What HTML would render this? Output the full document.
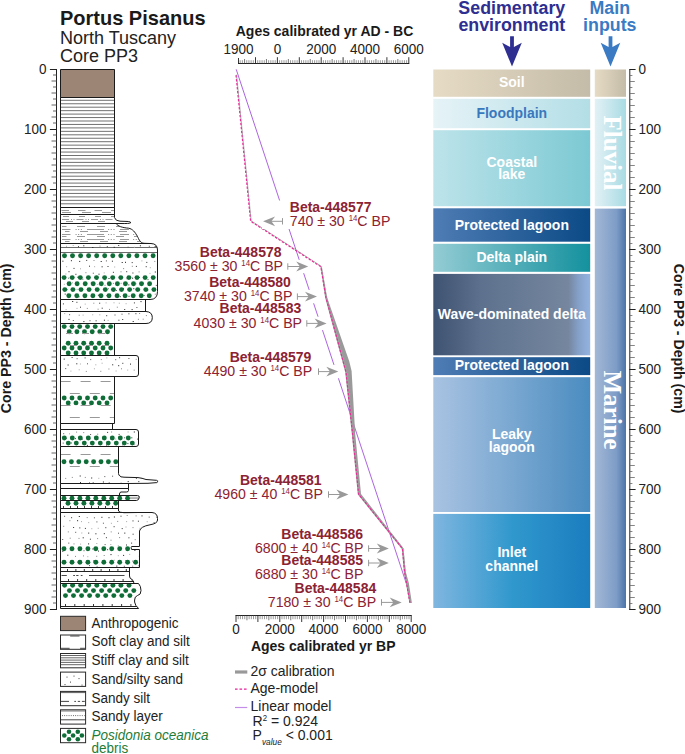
<!DOCTYPE html><html><head><meta charset="utf-8"><style>html,body{margin:0;padding:0;background:#fff;} svg{display:block} text{font-family:'Liberation Sans', sans-serif;}</style></head><body>
<svg width="685" height="754" viewBox="0 0 685 754">
<defs>
<linearGradient id="gSoil" x1="0" y1="0" x2="1" y2="0"><stop offset="0" stop-color="#e6dcc5"/><stop offset="1" stop-color="#c4bba8"/></linearGradient>
<linearGradient id="gFlood" x1="0" y1="0" x2="1" y2="0"><stop offset="0" stop-color="#e6f3f7"/><stop offset="1" stop-color="#b3dee6"/></linearGradient>
<linearGradient id="gLake" x1="0" y1="0" x2="1" y2="0"><stop offset="0" stop-color="#bde3ea"/><stop offset="1" stop-color="#7cc9d3"/></linearGradient>
<linearGradient id="gProt" x1="0" y1="0" x2="1" y2="0"><stop offset="0" stop-color="#4f7cb4"/><stop offset="1" stop-color="#0b4a86"/></linearGradient>
<linearGradient id="gDelta" x1="0" y1="0" x2="1" y2="0"><stop offset="0" stop-color="#94ccd4"/><stop offset="1" stop-color="#14919e"/></linearGradient>
<linearGradient id="gWave" x1="0" y1="0" x2="1" y2="0"><stop offset="0" stop-color="#3e5271"/><stop offset="0.3" stop-color="#5d718e"/><stop offset="0.86" stop-color="#75869e"/><stop offset="0.93" stop-color="#86a2cb"/><stop offset="1" stop-color="#93b3e0"/></linearGradient>
<linearGradient id="gLeaky" x1="0" y1="0" x2="1" y2="0"><stop offset="0" stop-color="#a9c3e2"/><stop offset="1" stop-color="#4a8cc0"/></linearGradient>
<linearGradient id="gInlet" x1="0" y1="0" x2="1" y2="0"><stop offset="0" stop-color="#80b6e0"/><stop offset="0.5" stop-color="#3198cd"/><stop offset="1" stop-color="#1a7dbf"/></linearGradient>
<linearGradient id="gFluv" x1="0" y1="0" x2="1" y2="0"><stop offset="0" stop-color="#e2f1f5"/><stop offset="1" stop-color="#a9dbe4"/></linearGradient>
<linearGradient id="gMar" x1="0" y1="0" x2="1" y2="0"><stop offset="0" stop-color="#a3b8d6"/><stop offset="0.7" stop-color="#7d9cc6"/><stop offset="1" stop-color="#4b74a8"/></linearGradient>
</defs>
<text x="60" y="25.2" font-size="20" font-weight="bold" fill="#1a1a1a" transform="matrix(1,0,0,1.05,0,-1.260)">Portus Pisanus</text>
<text x="60" y="43.7" font-size="18" fill="#222" transform="matrix(1,0,0,1.05,0,-2.185)">North Tuscany</text>
<text x="60" y="62" font-size="18" fill="#222" transform="matrix(1,0,0,1.05,0,-3.100)">Core PP3</text>
<g stroke="#222" stroke-width="1" fill="none">
<line x1="56.5" y1="69.0" x2="56.5" y2="610.0"/>
<line x1="49.9" y1="69.5" x2="56.5" y2="69.5"/>
<line x1="53" y1="75.0" x2="56.5" y2="75.0" stroke="#555" stroke-width="0.9"/>
<line x1="51.5" y1="81.0" x2="56.5" y2="81.0" stroke="#555" stroke-width="0.9"/>
<line x1="53" y1="87.0" x2="56.5" y2="87.0" stroke="#555" stroke-width="0.9"/>
<line x1="51.5" y1="93.0" x2="56.5" y2="93.0" stroke="#555" stroke-width="0.9"/>
<line x1="53" y1="99.0" x2="56.5" y2="99.0" stroke="#555" stroke-width="0.9"/>
<line x1="51.5" y1="105.0" x2="56.5" y2="105.0" stroke="#555" stroke-width="0.9"/>
<line x1="53" y1="111.0" x2="56.5" y2="111.0" stroke="#555" stroke-width="0.9"/>
<line x1="51.5" y1="117.0" x2="56.5" y2="117.0" stroke="#555" stroke-width="0.9"/>
<line x1="53" y1="123.0" x2="56.5" y2="123.0" stroke="#555" stroke-width="0.9"/>
<line x1="49.9" y1="129.5" x2="56.5" y2="129.5"/>
<line x1="53" y1="135.0" x2="56.5" y2="135.0" stroke="#555" stroke-width="0.9"/>
<line x1="51.5" y1="141.0" x2="56.5" y2="141.0" stroke="#555" stroke-width="0.9"/>
<line x1="53" y1="147.0" x2="56.5" y2="147.0" stroke="#555" stroke-width="0.9"/>
<line x1="51.5" y1="153.0" x2="56.5" y2="153.0" stroke="#555" stroke-width="0.9"/>
<line x1="53" y1="159.0" x2="56.5" y2="159.0" stroke="#555" stroke-width="0.9"/>
<line x1="51.5" y1="165.0" x2="56.5" y2="165.0" stroke="#555" stroke-width="0.9"/>
<line x1="53" y1="171.0" x2="56.5" y2="171.0" stroke="#555" stroke-width="0.9"/>
<line x1="51.5" y1="177.0" x2="56.5" y2="177.0" stroke="#555" stroke-width="0.9"/>
<line x1="53" y1="183.0" x2="56.5" y2="183.0" stroke="#555" stroke-width="0.9"/>
<line x1="49.9" y1="189.5" x2="56.5" y2="189.5"/>
<line x1="53" y1="195.0" x2="56.5" y2="195.0" stroke="#555" stroke-width="0.9"/>
<line x1="51.5" y1="201.0" x2="56.5" y2="201.0" stroke="#555" stroke-width="0.9"/>
<line x1="53" y1="207.0" x2="56.5" y2="207.0" stroke="#555" stroke-width="0.9"/>
<line x1="51.5" y1="213.0" x2="56.5" y2="213.0" stroke="#555" stroke-width="0.9"/>
<line x1="53" y1="219.0" x2="56.5" y2="219.0" stroke="#555" stroke-width="0.9"/>
<line x1="51.5" y1="225.0" x2="56.5" y2="225.0" stroke="#555" stroke-width="0.9"/>
<line x1="53" y1="231.0" x2="56.5" y2="231.0" stroke="#555" stroke-width="0.9"/>
<line x1="51.5" y1="237.0" x2="56.5" y2="237.0" stroke="#555" stroke-width="0.9"/>
<line x1="53" y1="243.0" x2="56.5" y2="243.0" stroke="#555" stroke-width="0.9"/>
<line x1="49.9" y1="249.5" x2="56.5" y2="249.5"/>
<line x1="53" y1="255.0" x2="56.5" y2="255.0" stroke="#555" stroke-width="0.9"/>
<line x1="51.5" y1="261.0" x2="56.5" y2="261.0" stroke="#555" stroke-width="0.9"/>
<line x1="53" y1="267.0" x2="56.5" y2="267.0" stroke="#555" stroke-width="0.9"/>
<line x1="51.5" y1="273.0" x2="56.5" y2="273.0" stroke="#555" stroke-width="0.9"/>
<line x1="53" y1="279.0" x2="56.5" y2="279.0" stroke="#555" stroke-width="0.9"/>
<line x1="51.5" y1="285.0" x2="56.5" y2="285.0" stroke="#555" stroke-width="0.9"/>
<line x1="53" y1="291.0" x2="56.5" y2="291.0" stroke="#555" stroke-width="0.9"/>
<line x1="51.5" y1="297.0" x2="56.5" y2="297.0" stroke="#555" stroke-width="0.9"/>
<line x1="53" y1="303.0" x2="56.5" y2="303.0" stroke="#555" stroke-width="0.9"/>
<line x1="49.9" y1="309.5" x2="56.5" y2="309.5"/>
<line x1="53" y1="315.0" x2="56.5" y2="315.0" stroke="#555" stroke-width="0.9"/>
<line x1="51.5" y1="321.0" x2="56.5" y2="321.0" stroke="#555" stroke-width="0.9"/>
<line x1="53" y1="327.0" x2="56.5" y2="327.0" stroke="#555" stroke-width="0.9"/>
<line x1="51.5" y1="333.0" x2="56.5" y2="333.0" stroke="#555" stroke-width="0.9"/>
<line x1="53" y1="339.0" x2="56.5" y2="339.0" stroke="#555" stroke-width="0.9"/>
<line x1="51.5" y1="345.0" x2="56.5" y2="345.0" stroke="#555" stroke-width="0.9"/>
<line x1="53" y1="351.0" x2="56.5" y2="351.0" stroke="#555" stroke-width="0.9"/>
<line x1="51.5" y1="357.0" x2="56.5" y2="357.0" stroke="#555" stroke-width="0.9"/>
<line x1="53" y1="363.0" x2="56.5" y2="363.0" stroke="#555" stroke-width="0.9"/>
<line x1="49.9" y1="369.5" x2="56.5" y2="369.5"/>
<line x1="53" y1="375.0" x2="56.5" y2="375.0" stroke="#555" stroke-width="0.9"/>
<line x1="51.5" y1="381.0" x2="56.5" y2="381.0" stroke="#555" stroke-width="0.9"/>
<line x1="53" y1="387.0" x2="56.5" y2="387.0" stroke="#555" stroke-width="0.9"/>
<line x1="51.5" y1="393.0" x2="56.5" y2="393.0" stroke="#555" stroke-width="0.9"/>
<line x1="53" y1="399.0" x2="56.5" y2="399.0" stroke="#555" stroke-width="0.9"/>
<line x1="51.5" y1="405.0" x2="56.5" y2="405.0" stroke="#555" stroke-width="0.9"/>
<line x1="53" y1="411.0" x2="56.5" y2="411.0" stroke="#555" stroke-width="0.9"/>
<line x1="51.5" y1="417.0" x2="56.5" y2="417.0" stroke="#555" stroke-width="0.9"/>
<line x1="53" y1="423.0" x2="56.5" y2="423.0" stroke="#555" stroke-width="0.9"/>
<line x1="49.9" y1="429.5" x2="56.5" y2="429.5"/>
<line x1="53" y1="435.0" x2="56.5" y2="435.0" stroke="#555" stroke-width="0.9"/>
<line x1="51.5" y1="441.0" x2="56.5" y2="441.0" stroke="#555" stroke-width="0.9"/>
<line x1="53" y1="447.0" x2="56.5" y2="447.0" stroke="#555" stroke-width="0.9"/>
<line x1="51.5" y1="453.0" x2="56.5" y2="453.0" stroke="#555" stroke-width="0.9"/>
<line x1="53" y1="459.0" x2="56.5" y2="459.0" stroke="#555" stroke-width="0.9"/>
<line x1="51.5" y1="465.0" x2="56.5" y2="465.0" stroke="#555" stroke-width="0.9"/>
<line x1="53" y1="471.0" x2="56.5" y2="471.0" stroke="#555" stroke-width="0.9"/>
<line x1="51.5" y1="477.0" x2="56.5" y2="477.0" stroke="#555" stroke-width="0.9"/>
<line x1="53" y1="483.0" x2="56.5" y2="483.0" stroke="#555" stroke-width="0.9"/>
<line x1="49.9" y1="489.5" x2="56.5" y2="489.5"/>
<line x1="53" y1="495.0" x2="56.5" y2="495.0" stroke="#555" stroke-width="0.9"/>
<line x1="51.5" y1="501.0" x2="56.5" y2="501.0" stroke="#555" stroke-width="0.9"/>
<line x1="53" y1="507.0" x2="56.5" y2="507.0" stroke="#555" stroke-width="0.9"/>
<line x1="51.5" y1="513.0" x2="56.5" y2="513.0" stroke="#555" stroke-width="0.9"/>
<line x1="53" y1="519.0" x2="56.5" y2="519.0" stroke="#555" stroke-width="0.9"/>
<line x1="51.5" y1="525.0" x2="56.5" y2="525.0" stroke="#555" stroke-width="0.9"/>
<line x1="53" y1="531.0" x2="56.5" y2="531.0" stroke="#555" stroke-width="0.9"/>
<line x1="51.5" y1="537.0" x2="56.5" y2="537.0" stroke="#555" stroke-width="0.9"/>
<line x1="53" y1="543.0" x2="56.5" y2="543.0" stroke="#555" stroke-width="0.9"/>
<line x1="49.9" y1="549.5" x2="56.5" y2="549.5"/>
<line x1="53" y1="555.0" x2="56.5" y2="555.0" stroke="#555" stroke-width="0.9"/>
<line x1="51.5" y1="561.0" x2="56.5" y2="561.0" stroke="#555" stroke-width="0.9"/>
<line x1="53" y1="567.0" x2="56.5" y2="567.0" stroke="#555" stroke-width="0.9"/>
<line x1="51.5" y1="573.0" x2="56.5" y2="573.0" stroke="#555" stroke-width="0.9"/>
<line x1="53" y1="579.0" x2="56.5" y2="579.0" stroke="#555" stroke-width="0.9"/>
<line x1="51.5" y1="585.0" x2="56.5" y2="585.0" stroke="#555" stroke-width="0.9"/>
<line x1="53" y1="591.0" x2="56.5" y2="591.0" stroke="#555" stroke-width="0.9"/>
<line x1="51.5" y1="597.0" x2="56.5" y2="597.0" stroke="#555" stroke-width="0.9"/>
<line x1="53" y1="603.0" x2="56.5" y2="603.0" stroke="#555" stroke-width="0.9"/>
<line x1="49.9" y1="609.5" x2="56.5" y2="609.5"/>
</g>
<text x="46.5" y="73.8" font-size="13.5" text-anchor="end" fill="#222" transform="matrix(1,0,0,1.05,0,-3.690)">0</text>
<text x="46.5" y="133.8" font-size="13.5" text-anchor="end" fill="#222" transform="matrix(1,0,0,1.05,0,-6.690)">100</text>
<text x="46.5" y="193.8" font-size="13.5" text-anchor="end" fill="#222" transform="matrix(1,0,0,1.05,0,-9.690)">200</text>
<text x="46.5" y="253.8" font-size="13.5" text-anchor="end" fill="#222" transform="matrix(1,0,0,1.05,0,-12.690)">300</text>
<text x="46.5" y="313.8" font-size="13.5" text-anchor="end" fill="#222" transform="matrix(1,0,0,1.05,0,-15.690)">400</text>
<text x="46.5" y="373.8" font-size="13.5" text-anchor="end" fill="#222" transform="matrix(1,0,0,1.05,0,-18.690)">500</text>
<text x="46.5" y="433.8" font-size="13.5" text-anchor="end" fill="#222" transform="matrix(1,0,0,1.05,0,-21.690)">600</text>
<text x="46.5" y="493.8" font-size="13.5" text-anchor="end" fill="#222" transform="matrix(1,0,0,1.05,0,-24.690)">700</text>
<text x="46.5" y="553.8" font-size="13.5" text-anchor="end" fill="#222" transform="matrix(1,0,0,1.05,0,-27.690)">800</text>
<text x="46.5" y="613.8" font-size="13.5" text-anchor="end" fill="#222" transform="matrix(1,0,0,1.05,0,-30.690)">900</text>
<text transform="translate(10.7,338.3) rotate(-90) scale(1,1.05)" font-size="14.2" font-weight="bold" text-anchor="middle" fill="#1a1a1a">Core PP3 - Depth (cm)</text>
<g stroke="#222" stroke-width="1" fill="none">
<line x1="629.8" y1="69.5" x2="629.8" y2="610.0"/>
<line x1="629.3" y1="69.5" x2="635.6" y2="69.5"/>
<line x1="629.3" y1="75.5" x2="632.4" y2="75.5" stroke="#666" stroke-width="0.8"/>
<line x1="629.3" y1="81.5" x2="634.8" y2="81.5" stroke="#666" stroke-width="0.8"/>
<line x1="629.3" y1="87.5" x2="632.4" y2="87.5" stroke="#666" stroke-width="0.8"/>
<line x1="629.3" y1="93.5" x2="634.8" y2="93.5" stroke="#666" stroke-width="0.8"/>
<line x1="629.3" y1="99.5" x2="632.4" y2="99.5" stroke="#666" stroke-width="0.8"/>
<line x1="629.3" y1="105.5" x2="634.8" y2="105.5" stroke="#666" stroke-width="0.8"/>
<line x1="629.3" y1="111.5" x2="632.4" y2="111.5" stroke="#666" stroke-width="0.8"/>
<line x1="629.3" y1="117.5" x2="634.8" y2="117.5" stroke="#666" stroke-width="0.8"/>
<line x1="629.3" y1="123.5" x2="632.4" y2="123.5" stroke="#666" stroke-width="0.8"/>
<line x1="629.3" y1="129.5" x2="635.6" y2="129.5"/>
<line x1="629.3" y1="135.5" x2="632.4" y2="135.5" stroke="#666" stroke-width="0.8"/>
<line x1="629.3" y1="141.5" x2="634.8" y2="141.5" stroke="#666" stroke-width="0.8"/>
<line x1="629.3" y1="147.5" x2="632.4" y2="147.5" stroke="#666" stroke-width="0.8"/>
<line x1="629.3" y1="153.5" x2="634.8" y2="153.5" stroke="#666" stroke-width="0.8"/>
<line x1="629.3" y1="159.5" x2="632.4" y2="159.5" stroke="#666" stroke-width="0.8"/>
<line x1="629.3" y1="165.5" x2="634.8" y2="165.5" stroke="#666" stroke-width="0.8"/>
<line x1="629.3" y1="171.5" x2="632.4" y2="171.5" stroke="#666" stroke-width="0.8"/>
<line x1="629.3" y1="177.5" x2="634.8" y2="177.5" stroke="#666" stroke-width="0.8"/>
<line x1="629.3" y1="183.5" x2="632.4" y2="183.5" stroke="#666" stroke-width="0.8"/>
<line x1="629.3" y1="189.5" x2="635.6" y2="189.5"/>
<line x1="629.3" y1="195.5" x2="632.4" y2="195.5" stroke="#666" stroke-width="0.8"/>
<line x1="629.3" y1="201.5" x2="634.8" y2="201.5" stroke="#666" stroke-width="0.8"/>
<line x1="629.3" y1="207.5" x2="632.4" y2="207.5" stroke="#666" stroke-width="0.8"/>
<line x1="629.3" y1="213.5" x2="634.8" y2="213.5" stroke="#666" stroke-width="0.8"/>
<line x1="629.3" y1="219.5" x2="632.4" y2="219.5" stroke="#666" stroke-width="0.8"/>
<line x1="629.3" y1="225.5" x2="634.8" y2="225.5" stroke="#666" stroke-width="0.8"/>
<line x1="629.3" y1="231.5" x2="632.4" y2="231.5" stroke="#666" stroke-width="0.8"/>
<line x1="629.3" y1="237.5" x2="634.8" y2="237.5" stroke="#666" stroke-width="0.8"/>
<line x1="629.3" y1="243.5" x2="632.4" y2="243.5" stroke="#666" stroke-width="0.8"/>
<line x1="629.3" y1="249.5" x2="635.6" y2="249.5"/>
<line x1="629.3" y1="255.5" x2="632.4" y2="255.5" stroke="#666" stroke-width="0.8"/>
<line x1="629.3" y1="261.5" x2="634.8" y2="261.5" stroke="#666" stroke-width="0.8"/>
<line x1="629.3" y1="267.5" x2="632.4" y2="267.5" stroke="#666" stroke-width="0.8"/>
<line x1="629.3" y1="273.5" x2="634.8" y2="273.5" stroke="#666" stroke-width="0.8"/>
<line x1="629.3" y1="279.5" x2="632.4" y2="279.5" stroke="#666" stroke-width="0.8"/>
<line x1="629.3" y1="285.5" x2="634.8" y2="285.5" stroke="#666" stroke-width="0.8"/>
<line x1="629.3" y1="291.5" x2="632.4" y2="291.5" stroke="#666" stroke-width="0.8"/>
<line x1="629.3" y1="297.5" x2="634.8" y2="297.5" stroke="#666" stroke-width="0.8"/>
<line x1="629.3" y1="303.5" x2="632.4" y2="303.5" stroke="#666" stroke-width="0.8"/>
<line x1="629.3" y1="309.5" x2="635.6" y2="309.5"/>
<line x1="629.3" y1="315.5" x2="632.4" y2="315.5" stroke="#666" stroke-width="0.8"/>
<line x1="629.3" y1="321.5" x2="634.8" y2="321.5" stroke="#666" stroke-width="0.8"/>
<line x1="629.3" y1="327.5" x2="632.4" y2="327.5" stroke="#666" stroke-width="0.8"/>
<line x1="629.3" y1="333.5" x2="634.8" y2="333.5" stroke="#666" stroke-width="0.8"/>
<line x1="629.3" y1="339.5" x2="632.4" y2="339.5" stroke="#666" stroke-width="0.8"/>
<line x1="629.3" y1="345.5" x2="634.8" y2="345.5" stroke="#666" stroke-width="0.8"/>
<line x1="629.3" y1="351.5" x2="632.4" y2="351.5" stroke="#666" stroke-width="0.8"/>
<line x1="629.3" y1="357.5" x2="634.8" y2="357.5" stroke="#666" stroke-width="0.8"/>
<line x1="629.3" y1="363.5" x2="632.4" y2="363.5" stroke="#666" stroke-width="0.8"/>
<line x1="629.3" y1="369.5" x2="635.6" y2="369.5"/>
<line x1="629.3" y1="375.5" x2="632.4" y2="375.5" stroke="#666" stroke-width="0.8"/>
<line x1="629.3" y1="381.5" x2="634.8" y2="381.5" stroke="#666" stroke-width="0.8"/>
<line x1="629.3" y1="387.5" x2="632.4" y2="387.5" stroke="#666" stroke-width="0.8"/>
<line x1="629.3" y1="393.5" x2="634.8" y2="393.5" stroke="#666" stroke-width="0.8"/>
<line x1="629.3" y1="399.5" x2="632.4" y2="399.5" stroke="#666" stroke-width="0.8"/>
<line x1="629.3" y1="405.5" x2="634.8" y2="405.5" stroke="#666" stroke-width="0.8"/>
<line x1="629.3" y1="411.5" x2="632.4" y2="411.5" stroke="#666" stroke-width="0.8"/>
<line x1="629.3" y1="417.5" x2="634.8" y2="417.5" stroke="#666" stroke-width="0.8"/>
<line x1="629.3" y1="423.5" x2="632.4" y2="423.5" stroke="#666" stroke-width="0.8"/>
<line x1="629.3" y1="429.5" x2="635.6" y2="429.5"/>
<line x1="629.3" y1="435.5" x2="632.4" y2="435.5" stroke="#666" stroke-width="0.8"/>
<line x1="629.3" y1="441.5" x2="634.8" y2="441.5" stroke="#666" stroke-width="0.8"/>
<line x1="629.3" y1="447.5" x2="632.4" y2="447.5" stroke="#666" stroke-width="0.8"/>
<line x1="629.3" y1="453.5" x2="634.8" y2="453.5" stroke="#666" stroke-width="0.8"/>
<line x1="629.3" y1="459.5" x2="632.4" y2="459.5" stroke="#666" stroke-width="0.8"/>
<line x1="629.3" y1="465.5" x2="634.8" y2="465.5" stroke="#666" stroke-width="0.8"/>
<line x1="629.3" y1="471.5" x2="632.4" y2="471.5" stroke="#666" stroke-width="0.8"/>
<line x1="629.3" y1="477.5" x2="634.8" y2="477.5" stroke="#666" stroke-width="0.8"/>
<line x1="629.3" y1="483.5" x2="632.4" y2="483.5" stroke="#666" stroke-width="0.8"/>
<line x1="629.3" y1="489.5" x2="635.6" y2="489.5"/>
<line x1="629.3" y1="495.5" x2="632.4" y2="495.5" stroke="#666" stroke-width="0.8"/>
<line x1="629.3" y1="501.5" x2="634.8" y2="501.5" stroke="#666" stroke-width="0.8"/>
<line x1="629.3" y1="507.5" x2="632.4" y2="507.5" stroke="#666" stroke-width="0.8"/>
<line x1="629.3" y1="513.5" x2="634.8" y2="513.5" stroke="#666" stroke-width="0.8"/>
<line x1="629.3" y1="519.5" x2="632.4" y2="519.5" stroke="#666" stroke-width="0.8"/>
<line x1="629.3" y1="525.5" x2="634.8" y2="525.5" stroke="#666" stroke-width="0.8"/>
<line x1="629.3" y1="531.5" x2="632.4" y2="531.5" stroke="#666" stroke-width="0.8"/>
<line x1="629.3" y1="537.5" x2="634.8" y2="537.5" stroke="#666" stroke-width="0.8"/>
<line x1="629.3" y1="543.5" x2="632.4" y2="543.5" stroke="#666" stroke-width="0.8"/>
<line x1="629.3" y1="549.5" x2="635.6" y2="549.5"/>
<line x1="629.3" y1="555.5" x2="632.4" y2="555.5" stroke="#666" stroke-width="0.8"/>
<line x1="629.3" y1="561.5" x2="634.8" y2="561.5" stroke="#666" stroke-width="0.8"/>
<line x1="629.3" y1="567.5" x2="632.4" y2="567.5" stroke="#666" stroke-width="0.8"/>
<line x1="629.3" y1="573.5" x2="634.8" y2="573.5" stroke="#666" stroke-width="0.8"/>
<line x1="629.3" y1="579.5" x2="632.4" y2="579.5" stroke="#666" stroke-width="0.8"/>
<line x1="629.3" y1="585.5" x2="634.8" y2="585.5" stroke="#666" stroke-width="0.8"/>
<line x1="629.3" y1="591.5" x2="632.4" y2="591.5" stroke="#666" stroke-width="0.8"/>
<line x1="629.3" y1="597.5" x2="634.8" y2="597.5" stroke="#666" stroke-width="0.8"/>
<line x1="629.3" y1="603.5" x2="632.4" y2="603.5" stroke="#666" stroke-width="0.8"/>
<line x1="629.3" y1="609.5" x2="635.6" y2="609.5"/>
</g>
<text x="638.5" y="73.8" font-size="13.5" fill="#222" transform="matrix(1,0,0,1.05,0,-3.690)">0</text>
<text x="638.5" y="133.8" font-size="13.5" fill="#222" transform="matrix(1,0,0,1.05,0,-6.690)">100</text>
<text x="638.5" y="193.8" font-size="13.5" fill="#222" transform="matrix(1,0,0,1.05,0,-9.690)">200</text>
<text x="638.5" y="253.8" font-size="13.5" fill="#222" transform="matrix(1,0,0,1.05,0,-12.690)">300</text>
<text x="638.5" y="313.8" font-size="13.5" fill="#222" transform="matrix(1,0,0,1.05,0,-15.690)">400</text>
<text x="638.5" y="373.8" font-size="13.5" fill="#222" transform="matrix(1,0,0,1.05,0,-18.690)">500</text>
<text x="638.5" y="433.8" font-size="13.5" fill="#222" transform="matrix(1,0,0,1.05,0,-21.690)">600</text>
<text x="638.5" y="493.8" font-size="13.5" fill="#222" transform="matrix(1,0,0,1.05,0,-24.690)">700</text>
<text x="638.5" y="553.8" font-size="13.5" fill="#222" transform="matrix(1,0,0,1.05,0,-27.690)">800</text>
<text x="638.5" y="613.8" font-size="13.5" fill="#222" transform="matrix(1,0,0,1.05,0,-30.690)">900</text>
<text transform="translate(674.4,338.6) rotate(90) scale(1,1.05)" font-size="14.2" font-weight="bold" text-anchor="middle" fill="#1a1a1a">Core PP3 - Depth (cm)</text>
<defs>
<clipPath id="cL1"><path d="M60.5,69.5 H114.5 V97.5 H60.5 Z"/></clipPath>
<clipPath id="cL2"><path d="M60.5,97.5 H114.5 V207.5 H60.5 Z"/></clipPath>
<clipPath id="cL3"><path d="M60.5,207.5 H114.5 V214.5 H60.5 Z"/></clipPath>
<clipPath id="cL4"><path d="M60.5,214.5 H114.5 V217.6 Q115.5,221 120,221.2 L128.5,221.5 Q131.2,221.9 130.6,222.9 Q129.5,223.7 120,223.5 L114.5,223.5 H60.5 Z"/></clipPath>
<clipPath id="cL5"><path d="M60.5,223.5 H116 C118,226.3 122,227.6 128.6,228.2 C132.5,228.9 135,232 137.4,236.3 C139,239.5 140.2,243 144,243.3 L150,243.5 H60.5 Z"/></clipPath>
<clipPath id="cL6"><path d="M60.5,243.5 H151 Q157.5,243.7 157.5,250 V291.5 Q157.5,299.5 150,299.5 H60.5 Z"/></clipPath>
<clipPath id="cL8"><path d="M60.5,299.5 H145.5 V311.5 H60.5 Z"/></clipPath>
<clipPath id="cL9"><path d="M60.5,311.5 H146 Q152.3,311.8 152.3,317.6 Q152.3,323.5 146,323.5 H60.5 Z"/></clipPath>
<clipPath id="cL10"><path d="M60.5,323.5 H114.5 V355.5 H60.5 Z"/></clipPath>
<clipPath id="cL11"><path d="M60.5,355.5 H136.0 Q138.5,355.5 138.5,358.0 V374.0 Q138.5,376.5 136.0,376.5 H60.5 Z"/></clipPath>
<clipPath id="cL12"><path d="M60.5,376.5 H114.5 V423.5 H60.5 Z"/></clipPath>
<clipPath id="cL13"><path d="M60.5,423.5 H112.5 V429.5 H60.5 Z"/></clipPath>
<clipPath id="cL14"><path d="M60.5,429.5 H136.0 Q138.5,429.5 138.5,432.0 V444.0 Q138.5,446.5 136.0,446.5 H60.5 Z"/></clipPath>
<clipPath id="cL15"><path d="M60.5,446.5 H118.5 V473.5 Q118.8,477 124,477.2 L138,477.6 Q142,478 146,479.5 L156.5,480.3 Q159.5,481.3 156.8,482.6 L148,483.3 L128,483.5 H60.5 Z"/></clipPath>
<clipPath id="cL16"><path d="M60.5,483.5 H128.5 V488.5 H60.5 Z"/></clipPath>
<clipPath id="cL17"><path d="M60.5,488.5 H128.5 V490.5 Q128.5,492 126.3,492 H121 Q119.5,492.3 119.5,494 V495.5 H60.5 Z"/></clipPath>
<clipPath id="cL18"><path d="M60.5,495.5 H137.5 Q139.5,495.6 139.3,497.3 Q139,500.3 136.5,500.5 H60.5 Z"/></clipPath>
<clipPath id="cL19"><path d="M60.5,500.5 H118.5 V508.5 H60.5 Z"/></clipPath>
<clipPath id="cL20"><path d="M60.5,508.5 H118.5 V511 Q119,512.6 124,512.7 L138,512.5 H60.5 Z"/></clipPath>
<clipPath id="cL21"><path d="M60.5,512.5 H152 Q157.5,513 157.5,518.5 V520 Q157.5,523.5 150,524.8 Q140.5,526.5 139.5,531 V546.5 H131.6 Q130.6,547.5 131.6,549.5 H139.5 V567.5 H60.5 Z"/></clipPath>
<clipPath id="cL22"><path d="M60.5,567.5 H129.5 V576 Q129.5,578.6 132,579.5 Q133.9,580.3 133.9,583.5 H60.5 Z"/></clipPath>
<clipPath id="cL23"><path d="M60.5,583.5 H138.5 Q141,586 141,590.6 Q141,595 137.5,595.5 Q134.6,596.5 134.6,600 V602 Q135,605.5 138.6,608.5 H60.5 Z"/></clipPath>
</defs>
<path d="M60.5,69.5 H114.5 V97.5 H60.5 Z" fill="#9d8576"/>
<path d="M60.5,97.5 H114.5 V207.5 H60.5 Z" fill="#fff"/>
<path d="M60.5,207.5 H114.5 V214.5 H60.5 Z" fill="#fff"/>
<path d="M60.5,214.5 H114.5 V217.6 Q115.5,221 120,221.2 L128.5,221.5 Q131.2,221.9 130.6,222.9 Q129.5,223.7 120,223.5 L114.5,223.5 H60.5 Z" fill="#fff"/>
<path d="M60.5,223.5 H116 C118,226.3 122,227.6 128.6,228.2 C132.5,228.9 135,232 137.4,236.3 C139,239.5 140.2,243 144,243.3 L150,243.5 H60.5 Z" fill="#fff"/>
<path d="M60.5,243.5 H151 Q157.5,243.7 157.5,250 V291.5 Q157.5,299.5 150,299.5 H60.5 Z" fill="#fff"/>
<path d="M60.5,299.5 H145.5 V311.5 H60.5 Z" fill="#fff"/>
<path d="M60.5,311.5 H146 Q152.3,311.8 152.3,317.6 Q152.3,323.5 146,323.5 H60.5 Z" fill="#fff"/>
<path d="M60.5,323.5 H114.5 V355.5 H60.5 Z" fill="#fff"/>
<path d="M60.5,355.5 H136.0 Q138.5,355.5 138.5,358.0 V374.0 Q138.5,376.5 136.0,376.5 H60.5 Z" fill="#fff"/>
<path d="M60.5,376.5 H114.5 V423.5 H60.5 Z" fill="#fff"/>
<path d="M60.5,423.5 H112.5 V429.5 H60.5 Z" fill="#fff"/>
<path d="M60.5,429.5 H136.0 Q138.5,429.5 138.5,432.0 V444.0 Q138.5,446.5 136.0,446.5 H60.5 Z" fill="#fff"/>
<path d="M60.5,446.5 H118.5 V473.5 Q118.8,477 124,477.2 L138,477.6 Q142,478 146,479.5 L156.5,480.3 Q159.5,481.3 156.8,482.6 L148,483.3 L128,483.5 H60.5 Z" fill="#fff"/>
<path d="M60.5,483.5 H128.5 V488.5 H60.5 Z" fill="#fff"/>
<path d="M60.5,488.5 H128.5 V490.5 Q128.5,492 126.3,492 H121 Q119.5,492.3 119.5,494 V495.5 H60.5 Z" fill="#fff"/>
<path d="M60.5,495.5 H137.5 Q139.5,495.6 139.3,497.3 Q139,500.3 136.5,500.5 H60.5 Z" fill="#fff"/>
<path d="M60.5,500.5 H118.5 V508.5 H60.5 Z" fill="#fff"/>
<path d="M60.5,508.5 H118.5 V511 Q119,512.6 124,512.7 L138,512.5 H60.5 Z" fill="#fff"/>
<path d="M60.5,512.5 H152 Q157.5,513 157.5,518.5 V520 Q157.5,523.5 150,524.8 Q140.5,526.5 139.5,531 V546.5 H131.6 Q130.6,547.5 131.6,549.5 H139.5 V567.5 H60.5 Z" fill="#fff"/>
<path d="M60.5,567.5 H129.5 V576 Q129.5,578.6 132,579.5 Q133.9,580.3 133.9,583.5 H60.5 Z" fill="#fff"/>
<path d="M60.5,583.5 H138.5 Q141,586 141,590.6 Q141,595 137.5,595.5 Q134.6,596.5 134.6,600 V602 Q135,605.5 138.6,608.5 H60.5 Z" fill="#fff"/>
<g clip-path="url(#cL2)">
<line x1="60.5" y1="100.30" x2="160" y2="100.30" stroke="#333" stroke-width="0.7"/>
<line x1="60.5" y1="103.75" x2="160" y2="103.75" stroke="#333" stroke-width="0.7"/>
<line x1="60.5" y1="107.20" x2="160" y2="107.20" stroke="#333" stroke-width="0.7"/>
<line x1="60.5" y1="110.65" x2="160" y2="110.65" stroke="#333" stroke-width="0.7"/>
<line x1="60.5" y1="114.10" x2="160" y2="114.10" stroke="#333" stroke-width="0.7"/>
<line x1="60.5" y1="117.55" x2="160" y2="117.55" stroke="#333" stroke-width="0.7"/>
<line x1="60.5" y1="121.00" x2="160" y2="121.00" stroke="#333" stroke-width="0.7"/>
<line x1="60.5" y1="124.45" x2="160" y2="124.45" stroke="#333" stroke-width="0.7"/>
<line x1="60.5" y1="127.90" x2="160" y2="127.90" stroke="#333" stroke-width="0.7"/>
<line x1="60.5" y1="131.35" x2="160" y2="131.35" stroke="#333" stroke-width="0.7"/>
<line x1="60.5" y1="134.80" x2="160" y2="134.80" stroke="#333" stroke-width="0.7"/>
<line x1="60.5" y1="138.25" x2="160" y2="138.25" stroke="#333" stroke-width="0.7"/>
<line x1="60.5" y1="141.70" x2="160" y2="141.70" stroke="#333" stroke-width="0.7"/>
<line x1="60.5" y1="145.15" x2="160" y2="145.15" stroke="#333" stroke-width="0.7"/>
<line x1="60.5" y1="148.60" x2="160" y2="148.60" stroke="#333" stroke-width="0.7"/>
<line x1="60.5" y1="152.05" x2="160" y2="152.05" stroke="#333" stroke-width="0.7"/>
<line x1="60.5" y1="155.50" x2="160" y2="155.50" stroke="#333" stroke-width="0.7"/>
<line x1="60.5" y1="158.95" x2="160" y2="158.95" stroke="#333" stroke-width="0.7"/>
<line x1="60.5" y1="162.40" x2="160" y2="162.40" stroke="#333" stroke-width="0.7"/>
<line x1="60.5" y1="165.85" x2="160" y2="165.85" stroke="#333" stroke-width="0.7"/>
<line x1="60.5" y1="169.30" x2="160" y2="169.30" stroke="#333" stroke-width="0.7"/>
<line x1="60.5" y1="172.75" x2="160" y2="172.75" stroke="#333" stroke-width="0.7"/>
<line x1="60.5" y1="176.20" x2="160" y2="176.20" stroke="#333" stroke-width="0.7"/>
<line x1="60.5" y1="179.65" x2="160" y2="179.65" stroke="#333" stroke-width="0.7"/>
<line x1="60.5" y1="183.10" x2="160" y2="183.10" stroke="#333" stroke-width="0.7"/>
<line x1="60.5" y1="186.55" x2="160" y2="186.55" stroke="#333" stroke-width="0.7"/>
<line x1="60.5" y1="190.00" x2="160" y2="190.00" stroke="#333" stroke-width="0.7"/>
<line x1="60.5" y1="193.45" x2="160" y2="193.45" stroke="#333" stroke-width="0.7"/>
<line x1="60.5" y1="196.90" x2="160" y2="196.90" stroke="#333" stroke-width="0.7"/>
<line x1="60.5" y1="200.35" x2="160" y2="200.35" stroke="#333" stroke-width="0.7"/>
<line x1="60.5" y1="203.80" x2="160" y2="203.80" stroke="#333" stroke-width="0.7"/>
</g>
<g clip-path="url(#cL3)">
<line x1="61.5" y1="210.50" x2="69.0" y2="210.50" stroke="#999" stroke-width="1"/>
<line x1="78.0" y1="210.50" x2="85.5" y2="210.50" stroke="#999" stroke-width="1"/>
<line x1="94.5" y1="210.50" x2="102.0" y2="210.50" stroke="#999" stroke-width="1"/>
<line x1="111.0" y1="210.50" x2="118.5" y2="210.50" stroke="#999" stroke-width="1"/>
<line x1="62.0" y1="212.50" x2="71.0" y2="212.50" stroke="#999" stroke-width="1"/>
<line x1="82.0" y1="212.50" x2="91.0" y2="212.50" stroke="#999" stroke-width="1"/>
<line x1="102.0" y1="212.50" x2="111.0" y2="212.50" stroke="#999" stroke-width="1"/>
</g>
<g clip-path="url(#cL4)">
<line x1="63.0" y1="216.50" x2="69.0" y2="216.50" stroke="#999" stroke-width="1"/>
<line x1="79.0" y1="216.50" x2="85.0" y2="216.50" stroke="#999" stroke-width="1"/>
<line x1="95.0" y1="216.50" x2="101.0" y2="216.50" stroke="#999" stroke-width="1"/>
<line x1="111.0" y1="216.50" x2="117.0" y2="216.50" stroke="#999" stroke-width="1"/>
<line x1="62.0" y1="219.50" x2="69.0" y2="219.50" stroke="#999" stroke-width="1"/>
<line x1="71.0" y1="219.50" x2="72.0" y2="219.50" stroke="#999" stroke-width="1"/>
<line x1="73.5" y1="219.50" x2="74.5" y2="219.50" stroke="#999" stroke-width="1"/>
<line x1="76.5" y1="219.50" x2="83.5" y2="219.50" stroke="#999" stroke-width="1"/>
<line x1="85.5" y1="219.50" x2="86.5" y2="219.50" stroke="#999" stroke-width="1"/>
<line x1="88.0" y1="219.50" x2="89.0" y2="219.50" stroke="#999" stroke-width="1"/>
<line x1="91.0" y1="219.50" x2="98.0" y2="219.50" stroke="#999" stroke-width="1"/>
<line x1="100.0" y1="219.50" x2="101.0" y2="219.50" stroke="#999" stroke-width="1"/>
<line x1="102.5" y1="219.50" x2="103.5" y2="219.50" stroke="#999" stroke-width="1"/>
<line x1="105.5" y1="219.50" x2="112.5" y2="219.50" stroke="#999" stroke-width="1"/>
<line x1="66.0" y1="221.50" x2="73.0" y2="221.50" stroke="#999" stroke-width="1"/>
<line x1="82.0" y1="221.50" x2="89.0" y2="221.50" stroke="#999" stroke-width="1"/>
<line x1="98.0" y1="221.50" x2="105.0" y2="221.50" stroke="#999" stroke-width="1"/>
</g>
<g clip-path="url(#cL5)">
<line x1="62" y1="226.5" x2="66.5" y2="226.5" stroke="#9a9a9a" stroke-width="1"/>
<line x1="77" y1="226.5" x2="85" y2="226.5" stroke="#9a9a9a" stroke-width="1"/>
<line x1="97" y1="226.5" x2="105" y2="226.5" stroke="#9a9a9a" stroke-width="1"/>
<line x1="116" y1="226.5" x2="124" y2="226.5" stroke="#9a9a9a" stroke-width="1"/>
<line x1="134" y1="226.5" x2="141" y2="226.5" stroke="#9a9a9a" stroke-width="1"/>
<line x1="148" y1="226.5" x2="156" y2="226.5" stroke="#9a9a9a" stroke-width="1"/>
<line x1="65" y1="231.5" x2="69.5" y2="231.5" stroke="#9a9a9a" stroke-width="1"/>
<line x1="80" y1="231.5" x2="88" y2="231.5" stroke="#9a9a9a" stroke-width="1"/>
<line x1="100" y1="231.5" x2="108" y2="231.5" stroke="#9a9a9a" stroke-width="1"/>
<line x1="119" y1="231.5" x2="127" y2="231.5" stroke="#9a9a9a" stroke-width="1"/>
<line x1="137" y1="231.5" x2="144" y2="231.5" stroke="#9a9a9a" stroke-width="1"/>
<line x1="148" y1="231.5" x2="156" y2="231.5" stroke="#9a9a9a" stroke-width="1"/>
<line x1="62" y1="236.5" x2="66.5" y2="236.5" stroke="#9a9a9a" stroke-width="1"/>
<line x1="77" y1="236.5" x2="85" y2="236.5" stroke="#9a9a9a" stroke-width="1"/>
<line x1="97" y1="236.5" x2="105" y2="236.5" stroke="#9a9a9a" stroke-width="1"/>
<line x1="116" y1="236.5" x2="124" y2="236.5" stroke="#9a9a9a" stroke-width="1"/>
<line x1="134" y1="236.5" x2="141" y2="236.5" stroke="#9a9a9a" stroke-width="1"/>
<line x1="148" y1="236.5" x2="156" y2="236.5" stroke="#9a9a9a" stroke-width="1"/>
<line x1="65" y1="241.5" x2="69.5" y2="241.5" stroke="#9a9a9a" stroke-width="1"/>
<line x1="80" y1="241.5" x2="88" y2="241.5" stroke="#9a9a9a" stroke-width="1"/>
<line x1="100" y1="241.5" x2="108" y2="241.5" stroke="#9a9a9a" stroke-width="1"/>
<line x1="119" y1="241.5" x2="127" y2="241.5" stroke="#9a9a9a" stroke-width="1"/>
<line x1="137" y1="241.5" x2="144" y2="241.5" stroke="#9a9a9a" stroke-width="1"/>
<line x1="148" y1="241.5" x2="156" y2="241.5" stroke="#9a9a9a" stroke-width="1"/>
<line x1="62" y1="229.5" x2="70.5" y2="229.5" stroke="#9a9a9a" stroke-width="1"/>
<line x1="75.5" y1="229.5" x2="76.7" y2="229.5" stroke="#9a9a9a" stroke-width="1"/>
<line x1="78" y1="229.5" x2="79.2" y2="229.5" stroke="#9a9a9a" stroke-width="1"/>
<line x1="80.8" y1="229.5" x2="82.0" y2="229.5" stroke="#9a9a9a" stroke-width="1"/>
<line x1="87" y1="229.5" x2="104" y2="229.5" stroke="#9a9a9a" stroke-width="1"/>
<line x1="108" y1="229.5" x2="109.2" y2="229.5" stroke="#9a9a9a" stroke-width="1"/>
<line x1="110.7" y1="229.5" x2="111.9" y2="229.5" stroke="#9a9a9a" stroke-width="1"/>
<line x1="113.4" y1="229.5" x2="114.60000000000001" y2="229.5" stroke="#9a9a9a" stroke-width="1"/>
<line x1="120" y1="229.5" x2="129" y2="229.5" stroke="#9a9a9a" stroke-width="1"/>
<line x1="133" y1="229.5" x2="134.2" y2="229.5" stroke="#9a9a9a" stroke-width="1"/>
<line x1="135.7" y1="229.5" x2="136.89999999999998" y2="229.5" stroke="#9a9a9a" stroke-width="1"/>
<line x1="138.4" y1="229.5" x2="139.6" y2="229.5" stroke="#9a9a9a" stroke-width="1"/>
<line x1="143" y1="229.5" x2="152" y2="229.5" stroke="#9a9a9a" stroke-width="1"/>
<line x1="62" y1="234.5" x2="70.5" y2="234.5" stroke="#9a9a9a" stroke-width="1"/>
<line x1="75.5" y1="234.5" x2="76.7" y2="234.5" stroke="#9a9a9a" stroke-width="1"/>
<line x1="78" y1="234.5" x2="79.2" y2="234.5" stroke="#9a9a9a" stroke-width="1"/>
<line x1="80.8" y1="234.5" x2="82.0" y2="234.5" stroke="#9a9a9a" stroke-width="1"/>
<line x1="87" y1="234.5" x2="104" y2="234.5" stroke="#9a9a9a" stroke-width="1"/>
<line x1="108" y1="234.5" x2="109.2" y2="234.5" stroke="#9a9a9a" stroke-width="1"/>
<line x1="110.7" y1="234.5" x2="111.9" y2="234.5" stroke="#9a9a9a" stroke-width="1"/>
<line x1="113.4" y1="234.5" x2="114.60000000000001" y2="234.5" stroke="#9a9a9a" stroke-width="1"/>
<line x1="120" y1="234.5" x2="129" y2="234.5" stroke="#9a9a9a" stroke-width="1"/>
<line x1="133" y1="234.5" x2="134.2" y2="234.5" stroke="#9a9a9a" stroke-width="1"/>
<line x1="135.7" y1="234.5" x2="136.89999999999998" y2="234.5" stroke="#9a9a9a" stroke-width="1"/>
<line x1="138.4" y1="234.5" x2="139.6" y2="234.5" stroke="#9a9a9a" stroke-width="1"/>
<line x1="143" y1="234.5" x2="152" y2="234.5" stroke="#9a9a9a" stroke-width="1"/>
<line x1="62" y1="239.5" x2="70.5" y2="239.5" stroke="#9a9a9a" stroke-width="1"/>
<line x1="75.5" y1="239.5" x2="76.7" y2="239.5" stroke="#9a9a9a" stroke-width="1"/>
<line x1="78" y1="239.5" x2="79.2" y2="239.5" stroke="#9a9a9a" stroke-width="1"/>
<line x1="80.8" y1="239.5" x2="82.0" y2="239.5" stroke="#9a9a9a" stroke-width="1"/>
<line x1="87" y1="239.5" x2="104" y2="239.5" stroke="#9a9a9a" stroke-width="1"/>
<line x1="108" y1="239.5" x2="109.2" y2="239.5" stroke="#9a9a9a" stroke-width="1"/>
<line x1="110.7" y1="239.5" x2="111.9" y2="239.5" stroke="#9a9a9a" stroke-width="1"/>
<line x1="113.4" y1="239.5" x2="114.60000000000001" y2="239.5" stroke="#9a9a9a" stroke-width="1"/>
<line x1="120" y1="239.5" x2="129" y2="239.5" stroke="#9a9a9a" stroke-width="1"/>
<line x1="133" y1="239.5" x2="134.2" y2="239.5" stroke="#9a9a9a" stroke-width="1"/>
<line x1="135.7" y1="239.5" x2="136.89999999999998" y2="239.5" stroke="#9a9a9a" stroke-width="1"/>
<line x1="138.4" y1="239.5" x2="139.6" y2="239.5" stroke="#9a9a9a" stroke-width="1"/>
<line x1="143" y1="239.5" x2="152" y2="239.5" stroke="#9a9a9a" stroke-width="1"/>
</g>
<g clip-path="url(#cL6)">
<line x1="60.5" y1="247.50" x2="160" y2="247.50" stroke="#444" stroke-width="0.8"/>
<line x1="60.5" y1="252.50" x2="160" y2="252.50" stroke="#444" stroke-width="0.8"/>
<rect x="66.0" y="245.8" width="1" height="1" fill="#aaa"/>
<rect x="72.7" y="245.0" width="1" height="1" fill="#aaa"/>
<rect x="78.0" y="246.2" width="1" height="1" fill="#333"/>
<rect x="83.3" y="245.3" width="1" height="1" fill="#1a1a1a"/>
<rect x="92.3" y="247.0" width="1" height="1" fill="#1a1a1a"/>
<rect x="99.5" y="245.6" width="1" height="1" fill="#888"/>
<rect x="106.8" y="246.2" width="1" height="1" fill="#333"/>
<rect x="113.7" y="246.8" width="1" height="1" fill="#1a1a1a"/>
<rect x="118.2" y="245.0" width="1" height="1" fill="#333"/>
<rect x="127.6" y="246.7" width="1" height="1" fill="#555"/>
<rect x="133.9" y="246.8" width="1" height="1" fill="#aaa"/>
<rect x="139.9" y="245.3" width="1" height="1" fill="#1a1a1a"/>
<rect x="148.8" y="245.8" width="1" height="1" fill="#555"/>
<rect x="154.7" y="246.0" width="1" height="1" fill="#1a1a1a"/>
<circle cx="64.5" cy="255.8" r="2.45" fill="#0f6d37"/>
<circle cx="72.5" cy="255.8" r="2.45" fill="#0f6d37"/>
<circle cx="80.6" cy="255.8" r="2.45" fill="#0f6d37"/>
<circle cx="88.6" cy="255.8" r="2.45" fill="#0f6d37"/>
<circle cx="96.7" cy="255.8" r="2.45" fill="#0f6d37"/>
<circle cx="104.7" cy="255.8" r="2.45" fill="#0f6d37"/>
<circle cx="112.8" cy="255.8" r="2.45" fill="#0f6d37"/>
<circle cx="120.8" cy="255.8" r="2.45" fill="#0f6d37"/>
<circle cx="128.9" cy="255.8" r="2.45" fill="#0f6d37"/>
<circle cx="136.9" cy="255.8" r="2.45" fill="#0f6d37"/>
<circle cx="145.0" cy="255.8" r="2.45" fill="#0f6d37"/>
<circle cx="153.1" cy="255.8" r="2.45" fill="#0f6d37"/>
<rect x="62.4" y="260.7" width="1" height="1" fill="#1a1a1a"/>
<rect x="70.9" y="260.2" width="1" height="1" fill="#1a1a1a"/>
<rect x="79.2" y="260.9" width="1" height="1" fill="#1a1a1a"/>
<rect x="86.2" y="259.9" width="1" height="1" fill="#333"/>
<rect x="93.5" y="260.0" width="1" height="1" fill="#888"/>
<rect x="100.7" y="261.0" width="1" height="1" fill="#1a1a1a"/>
<rect x="105.9" y="260.4" width="1" height="1" fill="#555"/>
<rect x="111.9" y="260.7" width="1" height="1" fill="#1a1a1a"/>
<rect x="121.7" y="262.0" width="1" height="1" fill="#1a1a1a"/>
<rect x="125.0" y="261.8" width="1" height="1" fill="#1a1a1a"/>
<rect x="131.7" y="262.1" width="1" height="1" fill="#333"/>
<rect x="141.4" y="260.4" width="1" height="1" fill="#aaa"/>
<rect x="146.3" y="261.9" width="1" height="1" fill="#333"/>
<rect x="154.3" y="260.9" width="1" height="1" fill="#888"/>
<rect x="66.1" y="266.2" width="1" height="1" fill="#aaa"/>
<rect x="73.5" y="267.9" width="1" height="1" fill="#333"/>
<rect x="80.0" y="268.3" width="1" height="1" fill="#aaa"/>
<rect x="89.0" y="265.7" width="1" height="1" fill="#333"/>
<rect x="94.1" y="266.2" width="1" height="1" fill="#aaa"/>
<rect x="101.6" y="266.3" width="1" height="1" fill="#1a1a1a"/>
<rect x="107.5" y="266.0" width="1" height="1" fill="#333"/>
<rect x="114.2" y="266.5" width="1" height="1" fill="#aaa"/>
<rect x="123.1" y="268.1" width="1" height="1" fill="#888"/>
<rect x="131.8" y="265.8" width="1" height="1" fill="#888"/>
<rect x="135.9" y="265.9" width="1" height="1" fill="#333"/>
<rect x="145.7" y="266.2" width="1" height="1" fill="#333"/>
<rect x="149.8" y="267.2" width="1" height="1" fill="#aaa"/>
<rect x="65.4" y="273.5" width="1" height="1" fill="#aaa"/>
<rect x="68.5" y="271.2" width="1" height="1" fill="#1a1a1a"/>
<rect x="75.4" y="273.8" width="1" height="1" fill="#333"/>
<rect x="85.4" y="272.2" width="1" height="1" fill="#888"/>
<rect x="92.8" y="272.7" width="1" height="1" fill="#555"/>
<rect x="98.5" y="273.7" width="1" height="1" fill="#1a1a1a"/>
<rect x="103.7" y="272.4" width="1" height="1" fill="#aaa"/>
<rect x="112.9" y="271.8" width="1" height="1" fill="#333"/>
<rect x="120.5" y="271.3" width="1" height="1" fill="#888"/>
<rect x="126.2" y="271.2" width="1" height="1" fill="#333"/>
<rect x="132.4" y="272.5" width="1" height="1" fill="#333"/>
<rect x="138.6" y="271.4" width="1" height="1" fill="#888"/>
<rect x="149.5" y="272.9" width="1" height="1" fill="#aaa"/>
<rect x="154.8" y="271.5" width="1" height="1" fill="#1a1a1a"/>
<rect x="68.2" y="277.7" width="1" height="1" fill="#555"/>
<rect x="77.4" y="276.7" width="1" height="1" fill="#1a1a1a"/>
<rect x="82.3" y="278.7" width="1" height="1" fill="#555"/>
<rect x="87.7" y="276.9" width="1" height="1" fill="#888"/>
<rect x="96.5" y="278.7" width="1" height="1" fill="#333"/>
<rect x="104.6" y="279.2" width="1" height="1" fill="#555"/>
<rect x="108.5" y="278.0" width="1" height="1" fill="#1a1a1a"/>
<rect x="119.0" y="277.8" width="1" height="1" fill="#1a1a1a"/>
<rect x="125.9" y="278.3" width="1" height="1" fill="#aaa"/>
<rect x="132.1" y="277.7" width="1" height="1" fill="#1a1a1a"/>
<rect x="138.8" y="276.9" width="1" height="1" fill="#1a1a1a"/>
<rect x="147.5" y="279.1" width="1" height="1" fill="#555"/>
<rect x="151.9" y="278.7" width="1" height="1" fill="#aaa"/>
<rect x="63.8" y="283.8" width="1" height="1" fill="#aaa"/>
<rect x="72.0" y="282.3" width="1" height="1" fill="#aaa"/>
<rect x="76.1" y="282.3" width="1" height="1" fill="#1a1a1a"/>
<rect x="84.9" y="284.0" width="1" height="1" fill="#888"/>
<rect x="90.8" y="282.3" width="1" height="1" fill="#555"/>
<rect x="97.3" y="284.0" width="1" height="1" fill="#aaa"/>
<rect x="104.5" y="284.8" width="1" height="1" fill="#888"/>
<rect x="112.9" y="282.9" width="1" height="1" fill="#888"/>
<rect x="120.6" y="282.8" width="1" height="1" fill="#888"/>
<rect x="128.3" y="284.4" width="1" height="1" fill="#333"/>
<rect x="135.6" y="283.3" width="1" height="1" fill="#aaa"/>
<rect x="142.8" y="282.8" width="1" height="1" fill="#333"/>
<rect x="147.9" y="284.6" width="1" height="1" fill="#1a1a1a"/>
<rect x="155.8" y="284.9" width="1" height="1" fill="#555"/>
<rect x="66.4" y="289.2" width="1" height="1" fill="#333"/>
<rect x="76.6" y="288.9" width="1" height="1" fill="#aaa"/>
<rect x="82.1" y="288.7" width="1" height="1" fill="#aaa"/>
<rect x="88.9" y="288.1" width="1" height="1" fill="#1a1a1a"/>
<rect x="95.2" y="289.6" width="1" height="1" fill="#555"/>
<rect x="103.5" y="288.7" width="1" height="1" fill="#aaa"/>
<rect x="108.0" y="288.2" width="1" height="1" fill="#888"/>
<rect x="115.8" y="290.0" width="1" height="1" fill="#555"/>
<rect x="123.0" y="288.3" width="1" height="1" fill="#1a1a1a"/>
<rect x="133.3" y="288.2" width="1" height="1" fill="#1a1a1a"/>
<rect x="138.7" y="289.7" width="1" height="1" fill="#555"/>
<rect x="147.2" y="289.8" width="1" height="1" fill="#333"/>
<rect x="153.6" y="288.6" width="1" height="1" fill="#1a1a1a"/>
<rect x="64.7" y="293.6" width="1" height="1" fill="#333"/>
<rect x="70.5" y="294.4" width="1" height="1" fill="#aaa"/>
<rect x="78.5" y="296.3" width="1" height="1" fill="#333"/>
<rect x="85.0" y="295.7" width="1" height="1" fill="#333"/>
<rect x="90.7" y="296.1" width="1" height="1" fill="#888"/>
<rect x="97.9" y="294.7" width="1" height="1" fill="#1a1a1a"/>
<rect x="106.0" y="295.1" width="1" height="1" fill="#aaa"/>
<rect x="114.8" y="296.1" width="1" height="1" fill="#888"/>
<rect x="119.7" y="296.2" width="1" height="1" fill="#1a1a1a"/>
<rect x="128.5" y="295.8" width="1" height="1" fill="#1a1a1a"/>
<rect x="133.2" y="296.0" width="1" height="1" fill="#1a1a1a"/>
<rect x="143.6" y="295.0" width="1" height="1" fill="#555"/>
<rect x="147.5" y="295.5" width="1" height="1" fill="#1a1a1a"/>
<rect x="154.8" y="293.7" width="1" height="1" fill="#888"/>
<circle cx="64.1" cy="277.6" r="2.45" fill="#0f6d37"/>
<circle cx="72.2" cy="277.6" r="2.45" fill="#0f6d37"/>
<circle cx="80.3" cy="277.6" r="2.45" fill="#0f6d37"/>
<circle cx="88.4" cy="277.6" r="2.45" fill="#0f6d37"/>
<circle cx="96.5" cy="277.6" r="2.45" fill="#0f6d37"/>
<circle cx="104.6" cy="277.6" r="2.45" fill="#0f6d37"/>
<circle cx="112.7" cy="277.6" r="2.45" fill="#0f6d37"/>
<circle cx="120.8" cy="277.6" r="2.45" fill="#0f6d37"/>
<circle cx="128.9" cy="277.6" r="2.45" fill="#0f6d37"/>
<circle cx="137.0" cy="277.6" r="2.45" fill="#0f6d37"/>
<circle cx="145.1" cy="277.6" r="2.45" fill="#0f6d37"/>
<circle cx="153.2" cy="277.6" r="2.45" fill="#0f6d37"/>
<circle cx="69.1" cy="283.8" r="2.45" fill="#0f6d37"/>
<circle cx="77.1" cy="283.8" r="2.45" fill="#0f6d37"/>
<circle cx="85.2" cy="283.8" r="2.45" fill="#0f6d37"/>
<circle cx="93.2" cy="283.8" r="2.45" fill="#0f6d37"/>
<circle cx="101.3" cy="283.8" r="2.45" fill="#0f6d37"/>
<circle cx="109.3" cy="283.8" r="2.45" fill="#0f6d37"/>
<circle cx="117.4" cy="283.8" r="2.45" fill="#0f6d37"/>
<circle cx="125.4" cy="283.8" r="2.45" fill="#0f6d37"/>
<circle cx="133.5" cy="283.8" r="2.45" fill="#0f6d37"/>
<circle cx="141.5" cy="283.8" r="2.45" fill="#0f6d37"/>
<circle cx="149.6" cy="283.8" r="2.45" fill="#0f6d37"/>
<circle cx="64.8" cy="289.6" r="2.45" fill="#0f6d37"/>
<circle cx="72.9" cy="289.6" r="2.45" fill="#0f6d37"/>
<circle cx="81.0" cy="289.6" r="2.45" fill="#0f6d37"/>
<circle cx="89.1" cy="289.6" r="2.45" fill="#0f6d37"/>
<circle cx="97.2" cy="289.6" r="2.45" fill="#0f6d37"/>
<circle cx="105.3" cy="289.6" r="2.45" fill="#0f6d37"/>
<circle cx="113.4" cy="289.6" r="2.45" fill="#0f6d37"/>
<circle cx="121.5" cy="289.6" r="2.45" fill="#0f6d37"/>
<circle cx="129.6" cy="289.6" r="2.45" fill="#0f6d37"/>
<circle cx="137.7" cy="289.6" r="2.45" fill="#0f6d37"/>
<circle cx="145.8" cy="289.6" r="2.45" fill="#0f6d37"/>
<circle cx="153.9" cy="289.6" r="2.45" fill="#0f6d37"/>
<circle cx="68.8" cy="295.7" r="2.45" fill="#0f6d37"/>
<circle cx="76.8" cy="295.7" r="2.45" fill="#0f6d37"/>
<circle cx="84.9" cy="295.7" r="2.45" fill="#0f6d37"/>
<circle cx="92.9" cy="295.7" r="2.45" fill="#0f6d37"/>
<circle cx="101.0" cy="295.7" r="2.45" fill="#0f6d37"/>
<circle cx="109.0" cy="295.7" r="2.45" fill="#0f6d37"/>
<circle cx="117.1" cy="295.7" r="2.45" fill="#0f6d37"/>
<circle cx="125.1" cy="295.7" r="2.45" fill="#0f6d37"/>
<circle cx="133.2" cy="295.7" r="2.45" fill="#0f6d37"/>
<circle cx="141.2" cy="295.7" r="2.45" fill="#0f6d37"/>
<circle cx="149.3" cy="295.7" r="2.45" fill="#0f6d37"/>
</g>
<g clip-path="url(#cL8)">
<rect x="62.9" y="303.4" width="1" height="1" fill="#333"/>
<rect x="72.2" y="301.0" width="1" height="1" fill="#1a1a1a"/>
<rect x="76.4" y="301.8" width="1" height="1" fill="#333"/>
<rect x="84.7" y="303.6" width="1" height="1" fill="#aaa"/>
<rect x="93.3" y="302.7" width="1" height="1" fill="#888"/>
<rect x="99.2" y="302.7" width="1" height="1" fill="#333"/>
<rect x="105.6" y="302.4" width="1" height="1" fill="#aaa"/>
<rect x="113.5" y="302.3" width="1" height="1" fill="#aaa"/>
<rect x="118.8" y="302.7" width="1" height="1" fill="#aaa"/>
<rect x="125.6" y="303.2" width="1" height="1" fill="#aaa"/>
<rect x="133.9" y="302.4" width="1" height="1" fill="#333"/>
<rect x="140.5" y="301.1" width="1" height="1" fill="#1a1a1a"/>
<rect x="65.6" y="309.1" width="1" height="1" fill="#aaa"/>
<rect x="76.5" y="307.9" width="1" height="1" fill="#aaa"/>
<rect x="80.0" y="306.7" width="1" height="1" fill="#333"/>
<rect x="86.8" y="307.9" width="1" height="1" fill="#888"/>
<rect x="97.6" y="308.7" width="1" height="1" fill="#888"/>
<rect x="101.7" y="307.7" width="1" height="1" fill="#333"/>
<rect x="109.0" y="308.9" width="1" height="1" fill="#888"/>
<rect x="116.8" y="306.7" width="1" height="1" fill="#888"/>
<rect x="124.2" y="309.0" width="1" height="1" fill="#333"/>
<rect x="131.6" y="309.1" width="1" height="1" fill="#1a1a1a"/>
<rect x="136.4" y="307.0" width="1" height="1" fill="#555"/>
</g>
<g clip-path="url(#cL9)">
<rect x="64.2" y="313.1" width="1" height="1" fill="#aaa"/>
<rect x="69.1" y="314.2" width="1" height="1" fill="#555"/>
<rect x="78.7" y="314.7" width="1" height="1" fill="#888"/>
<rect x="82.6" y="314.6" width="1" height="1" fill="#aaa"/>
<rect x="92.2" y="314.3" width="1" height="1" fill="#aaa"/>
<rect x="99.3" y="314.3" width="1" height="1" fill="#aaa"/>
<rect x="106.2" y="315.2" width="1" height="1" fill="#333"/>
<rect x="114.5" y="314.5" width="1" height="1" fill="#555"/>
<rect x="121.5" y="313.7" width="1" height="1" fill="#555"/>
<rect x="128.4" y="313.3" width="1" height="1" fill="#333"/>
<rect x="135.4" y="313.2" width="1" height="1" fill="#333"/>
<rect x="139.1" y="313.0" width="1" height="1" fill="#888"/>
<rect x="145.9" y="315.1" width="1" height="1" fill="#888"/>
<rect x="68.5" y="318.9" width="1" height="1" fill="#1a1a1a"/>
<rect x="72.8" y="320.0" width="1" height="1" fill="#555"/>
<rect x="83.4" y="321.1" width="1" height="1" fill="#1a1a1a"/>
<rect x="89.5" y="320.2" width="1" height="1" fill="#555"/>
<rect x="95.6" y="320.3" width="1" height="1" fill="#333"/>
<rect x="103.9" y="319.7" width="1" height="1" fill="#1a1a1a"/>
<rect x="107.6" y="319.9" width="1" height="1" fill="#aaa"/>
<rect x="118.4" y="319.7" width="1" height="1" fill="#333"/>
<rect x="122.2" y="319.0" width="1" height="1" fill="#333"/>
<rect x="132.7" y="321.0" width="1" height="1" fill="#1a1a1a"/>
<rect x="137.9" y="318.8" width="1" height="1" fill="#888"/>
<rect x="142.7" y="318.7" width="1" height="1" fill="#888"/>
</g>
<g clip-path="url(#cL10)">
<circle cx="64.2" cy="326.6" r="2.45" fill="#0f6d37"/>
<circle cx="72.0" cy="326.6" r="2.45" fill="#0f6d37"/>
<circle cx="79.7" cy="326.6" r="2.45" fill="#0f6d37"/>
<circle cx="87.5" cy="326.6" r="2.45" fill="#0f6d37"/>
<circle cx="95.2" cy="326.6" r="2.45" fill="#0f6d37"/>
<circle cx="103.0" cy="326.6" r="2.45" fill="#0f6d37"/>
<circle cx="110.7" cy="326.6" r="2.45" fill="#0f6d37"/>
<circle cx="69.2" cy="331.8" r="2.45" fill="#0f6d37"/>
<circle cx="76.9" cy="331.8" r="2.45" fill="#0f6d37"/>
<circle cx="84.5" cy="331.8" r="2.45" fill="#0f6d37"/>
<circle cx="92.2" cy="331.8" r="2.45" fill="#0f6d37"/>
<circle cx="99.8" cy="331.8" r="2.45" fill="#0f6d37"/>
<circle cx="107.5" cy="331.8" r="2.45" fill="#0f6d37"/>
<line x1="66.0" y1="333.50" x2="73.0" y2="333.50" stroke="#999" stroke-width="1"/>
<line x1="82.0" y1="333.50" x2="89.0" y2="333.50" stroke="#999" stroke-width="1"/>
<line x1="98.0" y1="333.50" x2="105.0" y2="333.50" stroke="#999" stroke-width="1"/>
<circle cx="68.2" cy="343.2" r="2.45" fill="#0f6d37"/>
<circle cx="76.0" cy="343.2" r="2.45" fill="#0f6d37"/>
<circle cx="83.7" cy="343.2" r="2.45" fill="#0f6d37"/>
<circle cx="91.5" cy="343.2" r="2.45" fill="#0f6d37"/>
<circle cx="99.2" cy="343.2" r="2.45" fill="#0f6d37"/>
<circle cx="107.0" cy="343.2" r="2.45" fill="#0f6d37"/>
<circle cx="64.2" cy="348.0" r="2.45" fill="#0f6d37"/>
<circle cx="72.0" cy="348.0" r="2.45" fill="#0f6d37"/>
<circle cx="79.7" cy="348.0" r="2.45" fill="#0f6d37"/>
<circle cx="87.5" cy="348.0" r="2.45" fill="#0f6d37"/>
<circle cx="95.2" cy="348.0" r="2.45" fill="#0f6d37"/>
<circle cx="103.0" cy="348.0" r="2.45" fill="#0f6d37"/>
<circle cx="110.7" cy="348.0" r="2.45" fill="#0f6d37"/>
<circle cx="68.2" cy="353.0" r="2.45" fill="#0f6d37"/>
<circle cx="76.0" cy="353.0" r="2.45" fill="#0f6d37"/>
<circle cx="83.7" cy="353.0" r="2.45" fill="#0f6d37"/>
<circle cx="91.5" cy="353.0" r="2.45" fill="#0f6d37"/>
<circle cx="99.2" cy="353.0" r="2.45" fill="#0f6d37"/>
<circle cx="107.0" cy="353.0" r="2.45" fill="#0f6d37"/>
<line x1="70.0" y1="345.50" x2="77.0" y2="345.50" stroke="#999" stroke-width="1"/>
<line x1="86.0" y1="345.50" x2="93.0" y2="345.50" stroke="#999" stroke-width="1"/>
<line x1="102.0" y1="345.50" x2="109.0" y2="345.50" stroke="#999" stroke-width="1"/>
</g>
<g clip-path="url(#cL11)">
<rect x="63.7" y="358.6" width="1" height="1" fill="#1a1a1a"/>
<rect x="71.6" y="357.0" width="1" height="1" fill="#333"/>
<rect x="76.6" y="358.2" width="1" height="1" fill="#555"/>
<rect x="84.6" y="357.4" width="1" height="1" fill="#333"/>
<rect x="90.2" y="359.1" width="1" height="1" fill="#555"/>
<rect x="100.8" y="359.1" width="1" height="1" fill="#888"/>
<rect x="106.3" y="357.4" width="1" height="1" fill="#aaa"/>
<rect x="115.2" y="359.2" width="1" height="1" fill="#555"/>
<rect x="119.1" y="357.2" width="1" height="1" fill="#333"/>
<rect x="128.4" y="358.0" width="1" height="1" fill="#555"/>
<rect x="135.7" y="358.8" width="1" height="1" fill="#888"/>
<rect x="67.6" y="364.5" width="1" height="1" fill="#1a1a1a"/>
<rect x="76.3" y="363.3" width="1" height="1" fill="#1a1a1a"/>
<rect x="79.9" y="363.5" width="1" height="1" fill="#aaa"/>
<rect x="87.0" y="363.3" width="1" height="1" fill="#555"/>
<rect x="95.3" y="364.3" width="1" height="1" fill="#aaa"/>
<rect x="101.6" y="362.7" width="1" height="1" fill="#aaa"/>
<rect x="112.2" y="364.3" width="1" height="1" fill="#1a1a1a"/>
<rect x="118.2" y="365.2" width="1" height="1" fill="#1a1a1a"/>
<rect x="122.3" y="362.8" width="1" height="1" fill="#333"/>
<rect x="130.0" y="363.6" width="1" height="1" fill="#1a1a1a"/>
<rect x="65.2" y="368.1" width="1" height="1" fill="#555"/>
<rect x="70.4" y="370.6" width="1" height="1" fill="#aaa"/>
<rect x="78.7" y="369.3" width="1" height="1" fill="#aaa"/>
<rect x="85.8" y="370.9" width="1" height="1" fill="#888"/>
<rect x="93.9" y="368.3" width="1" height="1" fill="#aaa"/>
<rect x="100.3" y="370.8" width="1" height="1" fill="#888"/>
<rect x="108.4" y="368.5" width="1" height="1" fill="#888"/>
<rect x="115.6" y="370.5" width="1" height="1" fill="#aaa"/>
<rect x="121.0" y="368.3" width="1" height="1" fill="#888"/>
<rect x="127.2" y="369.6" width="1" height="1" fill="#aaa"/>
<rect x="133.7" y="369.6" width="1" height="1" fill="#888"/>
</g>
<g clip-path="url(#cL12)">
<line x1="60.6" y1="381.50" x2="70.6" y2="381.50" stroke="#999" stroke-width="1"/>
<line x1="80.6" y1="381.50" x2="90.6" y2="381.50" stroke="#999" stroke-width="1"/>
<line x1="100.6" y1="381.50" x2="110.6" y2="381.50" stroke="#999" stroke-width="1"/>
<line x1="69.8" y1="393.50" x2="79.8" y2="393.50" stroke="#999" stroke-width="1"/>
<line x1="89.8" y1="393.50" x2="99.8" y2="393.50" stroke="#999" stroke-width="1"/>
<line x1="109.8" y1="393.50" x2="119.8" y2="393.50" stroke="#999" stroke-width="1"/>
<circle cx="64.2" cy="398.0" r="2.45" fill="#0f6d37"/>
<circle cx="72.0" cy="398.0" r="2.45" fill="#0f6d37"/>
<circle cx="79.7" cy="398.0" r="2.45" fill="#0f6d37"/>
<circle cx="87.5" cy="398.0" r="2.45" fill="#0f6d37"/>
<circle cx="95.2" cy="398.0" r="2.45" fill="#0f6d37"/>
<circle cx="103.0" cy="398.0" r="2.45" fill="#0f6d37"/>
<circle cx="110.7" cy="398.0" r="2.45" fill="#0f6d37"/>
<circle cx="68.2" cy="402.9" r="2.45" fill="#0f6d37"/>
<circle cx="76.0" cy="402.9" r="2.45" fill="#0f6d37"/>
<circle cx="83.7" cy="402.9" r="2.45" fill="#0f6d37"/>
<circle cx="91.5" cy="402.9" r="2.45" fill="#0f6d37"/>
<circle cx="99.2" cy="402.9" r="2.45" fill="#0f6d37"/>
<circle cx="107.0" cy="402.9" r="2.45" fill="#0f6d37"/>
<line x1="60.6" y1="405.50" x2="70.6" y2="405.50" stroke="#999" stroke-width="1"/>
<line x1="80.6" y1="405.50" x2="90.6" y2="405.50" stroke="#999" stroke-width="1"/>
<line x1="100.6" y1="405.50" x2="110.6" y2="405.50" stroke="#999" stroke-width="1"/>
<line x1="69.8" y1="417.50" x2="79.8" y2="417.50" stroke="#999" stroke-width="1"/>
<line x1="89.8" y1="417.50" x2="99.8" y2="417.50" stroke="#999" stroke-width="1"/>
<line x1="109.8" y1="417.50" x2="119.8" y2="417.50" stroke="#999" stroke-width="1"/>
</g>
<g clip-path="url(#cL14)">
<rect x="63.2" y="433.2" width="1" height="1" fill="#555"/>
<rect x="69.0" y="433.3" width="1" height="1" fill="#aaa"/>
<rect x="76.1" y="431.6" width="1" height="1" fill="#888"/>
<rect x="83.2" y="432.1" width="1" height="1" fill="#888"/>
<rect x="90.1" y="434.0" width="1" height="1" fill="#555"/>
<rect x="97.2" y="433.7" width="1" height="1" fill="#888"/>
<rect x="107.1" y="431.9" width="1" height="1" fill="#333"/>
<rect x="111.1" y="431.5" width="1" height="1" fill="#888"/>
<rect x="118.6" y="433.9" width="1" height="1" fill="#333"/>
<rect x="127.6" y="431.5" width="1" height="1" fill="#aaa"/>
<rect x="133.8" y="431.5" width="1" height="1" fill="#1a1a1a"/>
<rect x="65.7" y="437.8" width="1" height="1" fill="#333"/>
<rect x="75.0" y="438.1" width="1" height="1" fill="#555"/>
<rect x="81.8" y="438.7" width="1" height="1" fill="#555"/>
<rect x="89.4" y="438.3" width="1" height="1" fill="#333"/>
<rect x="97.2" y="438.8" width="1" height="1" fill="#333"/>
<rect x="102.1" y="438.2" width="1" height="1" fill="#555"/>
<rect x="110.5" y="438.5" width="1" height="1" fill="#555"/>
<rect x="115.2" y="438.5" width="1" height="1" fill="#aaa"/>
<rect x="124.1" y="437.3" width="1" height="1" fill="#555"/>
<rect x="131.3" y="437.3" width="1" height="1" fill="#333"/>
<rect x="137.2" y="438.6" width="1" height="1" fill="#333"/>
<rect x="62.7" y="442.6" width="1" height="1" fill="#555"/>
<rect x="70.7" y="442.5" width="1" height="1" fill="#1a1a1a"/>
<rect x="77.0" y="443.9" width="1" height="1" fill="#1a1a1a"/>
<rect x="86.9" y="444.9" width="1" height="1" fill="#333"/>
<rect x="93.0" y="444.1" width="1" height="1" fill="#555"/>
<rect x="99.7" y="443.4" width="1" height="1" fill="#555"/>
<rect x="106.1" y="444.5" width="1" height="1" fill="#1a1a1a"/>
<rect x="115.1" y="443.6" width="1" height="1" fill="#aaa"/>
<rect x="122.2" y="444.5" width="1" height="1" fill="#888"/>
<rect x="127.4" y="443.1" width="1" height="1" fill="#333"/>
<rect x="134.2" y="444.2" width="1" height="1" fill="#aaa"/>
<circle cx="64.3" cy="438.0" r="2.45" fill="#0f6d37"/>
<circle cx="72.3" cy="438.0" r="2.45" fill="#0f6d37"/>
<circle cx="80.3" cy="438.0" r="2.45" fill="#0f6d37"/>
<circle cx="88.3" cy="438.0" r="2.45" fill="#0f6d37"/>
<circle cx="96.3" cy="438.0" r="2.45" fill="#0f6d37"/>
<circle cx="104.3" cy="438.0" r="2.45" fill="#0f6d37"/>
<circle cx="112.3" cy="438.0" r="2.45" fill="#0f6d37"/>
<circle cx="120.3" cy="438.0" r="2.45" fill="#0f6d37"/>
<circle cx="128.3" cy="438.0" r="2.45" fill="#0f6d37"/>
<circle cx="68.3" cy="443.1" r="2.45" fill="#0f6d37"/>
<circle cx="76.3" cy="443.1" r="2.45" fill="#0f6d37"/>
<circle cx="84.3" cy="443.1" r="2.45" fill="#0f6d37"/>
<circle cx="92.3" cy="443.1" r="2.45" fill="#0f6d37"/>
<circle cx="100.3" cy="443.1" r="2.45" fill="#0f6d37"/>
<circle cx="108.3" cy="443.1" r="2.45" fill="#0f6d37"/>
<circle cx="116.3" cy="443.1" r="2.45" fill="#0f6d37"/>
<circle cx="124.3" cy="443.1" r="2.45" fill="#0f6d37"/>
<circle cx="132.3" cy="443.1" r="2.45" fill="#0f6d37"/>
</g>
<g clip-path="url(#cL15)">
<line x1="60.6" y1="454.50" x2="70.6" y2="454.50" stroke="#999" stroke-width="1"/>
<line x1="80.6" y1="454.50" x2="90.6" y2="454.50" stroke="#999" stroke-width="1"/>
<line x1="100.6" y1="454.50" x2="110.6" y2="454.50" stroke="#999" stroke-width="1"/>
<circle cx="64.0" cy="461.8" r="2.45" fill="#0f6d37"/>
<circle cx="71.4" cy="461.8" r="2.45" fill="#0f6d37"/>
<circle cx="78.8" cy="461.8" r="2.45" fill="#0f6d37"/>
<circle cx="86.2" cy="461.8" r="2.45" fill="#0f6d37"/>
<circle cx="93.6" cy="461.8" r="2.45" fill="#0f6d37"/>
<circle cx="101.0" cy="461.8" r="2.45" fill="#0f6d37"/>
<circle cx="108.4" cy="461.8" r="2.45" fill="#0f6d37"/>
<circle cx="115.8" cy="461.8" r="2.45" fill="#0f6d37"/>
<line x1="69.8" y1="466.50" x2="79.8" y2="466.50" stroke="#999" stroke-width="1"/>
<line x1="89.8" y1="466.50" x2="99.8" y2="466.50" stroke="#999" stroke-width="1"/>
<line x1="109.8" y1="466.50" x2="119.8" y2="466.50" stroke="#999" stroke-width="1"/>
<rect x="65.2" y="477.9" width="1" height="1" fill="#888"/>
<rect x="71.8" y="476.9" width="1" height="1" fill="#888"/>
<rect x="79.7" y="475.5" width="1" height="1" fill="#1a1a1a"/>
<rect x="84.8" y="476.9" width="1" height="1" fill="#888"/>
<rect x="91.2" y="477.5" width="1" height="1" fill="#1a1a1a"/>
<rect x="98.3" y="477.8" width="1" height="1" fill="#aaa"/>
<rect x="104.3" y="476.1" width="1" height="1" fill="#555"/>
<rect x="112.1" y="475.7" width="1" height="1" fill="#555"/>
<rect x="120.8" y="476.2" width="1" height="1" fill="#1a1a1a"/>
<rect x="126.3" y="476.5" width="1" height="1" fill="#aaa"/>
<rect x="135.9" y="477.9" width="1" height="1" fill="#555"/>
<rect x="140.8" y="477.5" width="1" height="1" fill="#555"/>
<rect x="147.9" y="475.9" width="1" height="1" fill="#aaa"/>
<rect x="154.0" y="476.3" width="1" height="1" fill="#555"/>
<rect x="80.0" y="482.0" width="1" height="1" fill="#333"/>
<rect x="89.0" y="482.5" width="1" height="1" fill="#333"/>
<rect x="92.7" y="482.2" width="1" height="1" fill="#555"/>
<rect x="102.9" y="481.5" width="1" height="1" fill="#1a1a1a"/>
<rect x="108.7" y="482.5" width="1" height="1" fill="#1a1a1a"/>
<rect x="120.6" y="482.4" width="1" height="1" fill="#aaa"/>
<rect x="127.7" y="481.1" width="1" height="1" fill="#1a1a1a"/>
<rect x="138.3" y="481.1" width="1" height="1" fill="#333"/>
</g>
<g clip-path="url(#cL17)">
</g>
<g clip-path="url(#cL18)">
<circle cx="64.0" cy="498.2" r="2.45" fill="#0f6d37"/>
<circle cx="72.0" cy="498.2" r="2.45" fill="#0f6d37"/>
<circle cx="79.9" cy="498.2" r="2.45" fill="#0f6d37"/>
<circle cx="87.9" cy="498.2" r="2.45" fill="#0f6d37"/>
<circle cx="95.8" cy="498.2" r="2.45" fill="#0f6d37"/>
<circle cx="103.8" cy="498.2" r="2.45" fill="#0f6d37"/>
<circle cx="111.7" cy="498.2" r="2.45" fill="#0f6d37"/>
<circle cx="119.7" cy="498.2" r="2.45" fill="#0f6d37"/>
<circle cx="127.6" cy="498.2" r="2.45" fill="#0f6d37"/>
<line x1="130" y1="497.30" x2="140" y2="497.30" stroke="#888" stroke-width="0.7"/>
<line x1="130" y1="498.60" x2="140" y2="498.60" stroke="#888" stroke-width="0.7"/>
</g>
<g clip-path="url(#cL19)">
<circle cx="68.0" cy="503.2" r="2.45" fill="#0f6d37"/>
<circle cx="76.0" cy="503.2" r="2.45" fill="#0f6d37"/>
<circle cx="83.9" cy="503.2" r="2.45" fill="#0f6d37"/>
<circle cx="91.9" cy="503.2" r="2.45" fill="#0f6d37"/>
<circle cx="99.8" cy="503.2" r="2.45" fill="#0f6d37"/>
<circle cx="107.8" cy="503.2" r="2.45" fill="#0f6d37"/>
<circle cx="115.7" cy="503.2" r="2.45" fill="#0f6d37"/>
<line x1="63.5" y1="506.0" x2="63.5" y2="508.0" stroke="#222" stroke-width="0.9"/>
<line x1="70.5" y1="506.0" x2="70.5" y2="508.0" stroke="#222" stroke-width="0.9"/>
<line x1="77.5" y1="506.0" x2="77.5" y2="508.0" stroke="#222" stroke-width="0.9"/>
<line x1="84.5" y1="506.0" x2="84.5" y2="508.0" stroke="#222" stroke-width="0.9"/>
<line x1="91.5" y1="506.0" x2="91.5" y2="508.0" stroke="#222" stroke-width="0.9"/>
<line x1="98.5" y1="506.0" x2="98.5" y2="508.0" stroke="#222" stroke-width="0.9"/>
<line x1="105.5" y1="506.0" x2="105.5" y2="508.0" stroke="#222" stroke-width="0.9"/>
<line x1="112.5" y1="506.0" x2="112.5" y2="508.0" stroke="#222" stroke-width="0.9"/>
</g>
<g clip-path="url(#cL21)">
<rect x="64.1" y="515.8" width="1" height="1" fill="#555"/>
<rect x="71.1" y="517.2" width="1" height="1" fill="#333"/>
<rect x="78.8" y="516.0" width="1" height="1" fill="#1a1a1a"/>
<rect x="86.7" y="517.1" width="1" height="1" fill="#888"/>
<rect x="93.9" y="517.3" width="1" height="1" fill="#555"/>
<rect x="101.4" y="516.8" width="1" height="1" fill="#1a1a1a"/>
<rect x="108.5" y="517.2" width="1" height="1" fill="#1a1a1a"/>
<rect x="113.9" y="516.5" width="1" height="1" fill="#1a1a1a"/>
<rect x="120.5" y="515.7" width="1" height="1" fill="#333"/>
<rect x="126.7" y="515.0" width="1" height="1" fill="#888"/>
<rect x="135.6" y="515.4" width="1" height="1" fill="#888"/>
<rect x="141.5" y="515.4" width="1" height="1" fill="#1a1a1a"/>
<rect x="148.7" y="516.6" width="1" height="1" fill="#555"/>
<rect x="156.5" y="516.7" width="1" height="1" fill="#333"/>
<rect x="69.4" y="520.2" width="1" height="1" fill="#888"/>
<rect x="77.1" y="520.2" width="1" height="1" fill="#1a1a1a"/>
<rect x="81.0" y="521.1" width="1" height="1" fill="#aaa"/>
<rect x="88.2" y="522.1" width="1" height="1" fill="#aaa"/>
<rect x="96.4" y="521.4" width="1" height="1" fill="#555"/>
<rect x="102.9" y="522.7" width="1" height="1" fill="#555"/>
<rect x="110.9" y="522.8" width="1" height="1" fill="#aaa"/>
<rect x="117.2" y="520.9" width="1" height="1" fill="#888"/>
<rect x="126.1" y="521.1" width="1" height="1" fill="#aaa"/>
<rect x="132.5" y="520.4" width="1" height="1" fill="#333"/>
<rect x="137.9" y="520.7" width="1" height="1" fill="#333"/>
<rect x="146.7" y="521.2" width="1" height="1" fill="#aaa"/>
<rect x="153.6" y="522.3" width="1" height="1" fill="#1a1a1a"/>
<rect x="63.2" y="525.8" width="1" height="1" fill="#888"/>
<rect x="73.1" y="527.0" width="1" height="1" fill="#333"/>
<rect x="79.3" y="527.4" width="1" height="1" fill="#333"/>
<rect x="84.9" y="527.9" width="1" height="1" fill="#333"/>
<rect x="91.3" y="528.2" width="1" height="1" fill="#aaa"/>
<rect x="97.7" y="527.8" width="1" height="1" fill="#aaa"/>
<rect x="105.3" y="527.2" width="1" height="1" fill="#333"/>
<rect x="113.6" y="526.2" width="1" height="1" fill="#333"/>
<rect x="121.7" y="528.1" width="1" height="1" fill="#333"/>
<rect x="125.5" y="526.5" width="1" height="1" fill="#aaa"/>
<rect x="132.5" y="527.1" width="1" height="1" fill="#888"/>
<rect x="139.5" y="527.8" width="1" height="1" fill="#aaa"/>
<rect x="149.9" y="526.6" width="1" height="1" fill="#333"/>
<rect x="154.9" y="528.3" width="1" height="1" fill="#1a1a1a"/>
<rect x="67.8" y="531.4" width="1" height="1" fill="#888"/>
<rect x="75.2" y="531.8" width="1" height="1" fill="#555"/>
<rect x="81.3" y="532.5" width="1" height="1" fill="#aaa"/>
<rect x="88.2" y="532.6" width="1" height="1" fill="#1a1a1a"/>
<rect x="95.4" y="533.3" width="1" height="1" fill="#1a1a1a"/>
<rect x="103.8" y="533.2" width="1" height="1" fill="#1a1a1a"/>
<rect x="110.7" y="531.4" width="1" height="1" fill="#888"/>
<rect x="118.0" y="532.7" width="1" height="1" fill="#555"/>
<rect x="124.3" y="532.6" width="1" height="1" fill="#1a1a1a"/>
<rect x="132.6" y="533.7" width="1" height="1" fill="#333"/>
<rect x="139.8" y="531.8" width="1" height="1" fill="#888"/>
<rect x="147.0" y="533.4" width="1" height="1" fill="#555"/>
<rect x="153.2" y="532.9" width="1" height="1" fill="#1a1a1a"/>
<rect x="62.2" y="539.0" width="1" height="1" fill="#555"/>
<rect x="69.7" y="537.7" width="1" height="1" fill="#888"/>
<rect x="78.5" y="537.9" width="1" height="1" fill="#888"/>
<rect x="82.7" y="537.3" width="1" height="1" fill="#1a1a1a"/>
<rect x="89.9" y="538.7" width="1" height="1" fill="#333"/>
<rect x="97.1" y="538.1" width="1" height="1" fill="#888"/>
<rect x="105.9" y="537.2" width="1" height="1" fill="#333"/>
<rect x="110.5" y="539.7" width="1" height="1" fill="#888"/>
<rect x="119.1" y="537.1" width="1" height="1" fill="#888"/>
<rect x="128.4" y="537.3" width="1" height="1" fill="#333"/>
<rect x="134.7" y="539.2" width="1" height="1" fill="#888"/>
<rect x="140.4" y="539.5" width="1" height="1" fill="#aaa"/>
<rect x="145.4" y="538.1" width="1" height="1" fill="#555"/>
<rect x="68.3" y="542.6" width="1" height="1" fill="#555"/>
<rect x="73.5" y="543.4" width="1" height="1" fill="#888"/>
<rect x="80.1" y="543.6" width="1" height="1" fill="#aaa"/>
<rect x="88.1" y="543.4" width="1" height="1" fill="#1a1a1a"/>
<rect x="96.3" y="543.0" width="1" height="1" fill="#aaa"/>
<rect x="104.6" y="544.1" width="1" height="1" fill="#555"/>
<rect x="110.3" y="544.0" width="1" height="1" fill="#aaa"/>
<rect x="117.8" y="545.3" width="1" height="1" fill="#aaa"/>
<rect x="126.0" y="544.5" width="1" height="1" fill="#333"/>
<rect x="131.1" y="542.6" width="1" height="1" fill="#333"/>
<rect x="139.0" y="542.9" width="1" height="1" fill="#888"/>
<rect x="145.2" y="544.5" width="1" height="1" fill="#555"/>
<rect x="150.0" y="545.0" width="1" height="1" fill="#555"/>
<rect x="62.3" y="550.9" width="1" height="1" fill="#333"/>
<rect x="69.8" y="549.7" width="1" height="1" fill="#aaa"/>
<rect x="78.2" y="549.7" width="1" height="1" fill="#555"/>
<rect x="83.5" y="550.2" width="1" height="1" fill="#555"/>
<rect x="92.4" y="548.5" width="1" height="1" fill="#1a1a1a"/>
<rect x="98.0" y="550.6" width="1" height="1" fill="#333"/>
<rect x="107.1" y="549.2" width="1" height="1" fill="#333"/>
<rect x="111.5" y="549.7" width="1" height="1" fill="#1a1a1a"/>
<rect x="119.7" y="549.3" width="1" height="1" fill="#333"/>
<rect x="126.1" y="550.0" width="1" height="1" fill="#888"/>
<rect x="134.4" y="549.9" width="1" height="1" fill="#1a1a1a"/>
<rect x="139.4" y="549.3" width="1" height="1" fill="#1a1a1a"/>
<rect x="146.4" y="549.2" width="1" height="1" fill="#aaa"/>
<rect x="154.5" y="549.1" width="1" height="1" fill="#333"/>
<rect x="67.3" y="554.7" width="1" height="1" fill="#1a1a1a"/>
<rect x="75.0" y="555.9" width="1" height="1" fill="#888"/>
<rect x="83.0" y="555.4" width="1" height="1" fill="#888"/>
<rect x="87.3" y="556.2" width="1" height="1" fill="#aaa"/>
<rect x="96.2" y="555.8" width="1" height="1" fill="#888"/>
<rect x="103.7" y="555.0" width="1" height="1" fill="#888"/>
<rect x="110.5" y="554.1" width="1" height="1" fill="#1a1a1a"/>
<rect x="117.8" y="555.2" width="1" height="1" fill="#aaa"/>
<rect x="123.1" y="554.9" width="1" height="1" fill="#1a1a1a"/>
<rect x="129.2" y="553.9" width="1" height="1" fill="#aaa"/>
<rect x="138.8" y="555.8" width="1" height="1" fill="#aaa"/>
<rect x="143.2" y="555.9" width="1" height="1" fill="#aaa"/>
<rect x="152.7" y="554.4" width="1" height="1" fill="#888"/>
<rect x="65.1" y="562.1" width="1" height="1" fill="#888"/>
<rect x="71.3" y="560.8" width="1" height="1" fill="#333"/>
<rect x="77.7" y="561.2" width="1" height="1" fill="#333"/>
<rect x="86.2" y="562.1" width="1" height="1" fill="#555"/>
<rect x="93.1" y="560.5" width="1" height="1" fill="#333"/>
<rect x="97.3" y="561.4" width="1" height="1" fill="#aaa"/>
<rect x="103.8" y="559.5" width="1" height="1" fill="#aaa"/>
<rect x="113.8" y="559.7" width="1" height="1" fill="#aaa"/>
<rect x="119.8" y="560.6" width="1" height="1" fill="#555"/>
<rect x="125.4" y="560.2" width="1" height="1" fill="#555"/>
<rect x="132.0" y="560.6" width="1" height="1" fill="#888"/>
<rect x="141.9" y="560.4" width="1" height="1" fill="#555"/>
<rect x="148.3" y="560.0" width="1" height="1" fill="#555"/>
<rect x="152.4" y="561.8" width="1" height="1" fill="#555"/>
<rect x="89.0" y="565.1" width="1" height="1" fill="#555"/>
<rect x="96.6" y="565.9" width="1" height="1" fill="#888"/>
<rect x="116.3" y="565.6" width="1" height="1" fill="#1a1a1a"/>
<rect x="123.8" y="565.8" width="1" height="1" fill="#555"/>
<rect x="132.2" y="565.7" width="1" height="1" fill="#888"/>
<rect x="138.1" y="565.3" width="1" height="1" fill="#888"/>
<rect x="143.8" y="565.4" width="1" height="1" fill="#555"/>
<circle cx="64.0" cy="548.7" r="2.45" fill="#0f6d37"/>
<circle cx="72.0" cy="548.7" r="2.45" fill="#0f6d37"/>
<circle cx="79.9" cy="548.7" r="2.45" fill="#0f6d37"/>
<circle cx="87.9" cy="548.7" r="2.45" fill="#0f6d37"/>
<circle cx="95.8" cy="548.7" r="2.45" fill="#0f6d37"/>
<circle cx="103.8" cy="548.7" r="2.45" fill="#0f6d37"/>
<circle cx="111.7" cy="548.7" r="2.45" fill="#0f6d37"/>
<circle cx="119.7" cy="548.7" r="2.45" fill="#0f6d37"/>
<circle cx="127.6" cy="548.7" r="2.45" fill="#0f6d37"/>
<circle cx="64.0" cy="562.2" r="2.45" fill="#0f6d37"/>
<circle cx="72.0" cy="562.2" r="2.45" fill="#0f6d37"/>
<circle cx="79.9" cy="562.2" r="2.45" fill="#0f6d37"/>
<circle cx="87.9" cy="562.2" r="2.45" fill="#0f6d37"/>
<circle cx="95.8" cy="562.2" r="2.45" fill="#0f6d37"/>
<circle cx="103.8" cy="562.2" r="2.45" fill="#0f6d37"/>
<circle cx="111.7" cy="562.2" r="2.45" fill="#0f6d37"/>
<circle cx="119.7" cy="562.2" r="2.45" fill="#0f6d37"/>
<circle cx="127.6" cy="562.2" r="2.45" fill="#0f6d37"/>
<circle cx="135.6" cy="562.2" r="2.45" fill="#0f6d37"/>
</g>
<g clip-path="url(#cL22)">
<line x1="60.5" y1="571.50" x2="160" y2="571.50" stroke="#222" stroke-width="1"/>
<line x1="67.5" y1="569.0" x2="67.5" y2="571.0" stroke="#222" stroke-width="0.9"/>
<line x1="75.9" y1="569.0" x2="75.9" y2="571.0" stroke="#222" stroke-width="0.9"/>
<line x1="84.3" y1="569.0" x2="84.3" y2="571.0" stroke="#222" stroke-width="0.9"/>
<line x1="92.7" y1="569.0" x2="92.7" y2="571.0" stroke="#222" stroke-width="0.9"/>
<line x1="101.1" y1="569.0" x2="101.1" y2="571.0" stroke="#222" stroke-width="0.9"/>
<line x1="109.5" y1="569.0" x2="109.5" y2="571.0" stroke="#222" stroke-width="0.9"/>
<line x1="117.9" y1="569.0" x2="117.9" y2="571.0" stroke="#222" stroke-width="0.9"/>
<line x1="126.3" y1="569.0" x2="126.3" y2="571.0" stroke="#222" stroke-width="0.9"/>
<line x1="61.5" y1="575.5" x2="66.8" y2="575.5" stroke="#333" stroke-width="0.9"/>
<line x1="73.2" y1="575.5" x2="75" y2="575.5" stroke="#333" stroke-width="0.9"/>
<line x1="76.2" y1="575.5" x2="78.5" y2="575.5" stroke="#333" stroke-width="0.9"/>
<line x1="80.8" y1="575.5" x2="82.5" y2="575.5" stroke="#333" stroke-width="0.9"/>
<line x1="89" y1="575.5" x2="124.5" y2="575.5" stroke="#333" stroke-width="0.9"/>
<line x1="60.5" y1="581.50" x2="160" y2="581.50" stroke="#222" stroke-width="1"/>
<line x1="68.5" y1="579.0" x2="68.5" y2="581.0" stroke="#222" stroke-width="0.9"/>
<line x1="77.6" y1="579.0" x2="77.6" y2="581.0" stroke="#222" stroke-width="0.9"/>
<line x1="86.7" y1="579.0" x2="86.7" y2="581.0" stroke="#222" stroke-width="0.9"/>
<line x1="95.8" y1="579.0" x2="95.8" y2="581.0" stroke="#222" stroke-width="0.9"/>
<line x1="104.9" y1="579.0" x2="104.9" y2="581.0" stroke="#222" stroke-width="0.9"/>
<line x1="114.0" y1="579.0" x2="114.0" y2="581.0" stroke="#222" stroke-width="0.9"/>
<line x1="123.1" y1="579.0" x2="123.1" y2="581.0" stroke="#222" stroke-width="0.9"/>
<line x1="132.2" y1="579.0" x2="132.2" y2="581.0" stroke="#222" stroke-width="0.9"/>
</g>
<g clip-path="url(#cL23)">
<circle cx="64.6" cy="585.3" r="2.45" fill="#0f6d37"/>
<circle cx="72.6" cy="585.3" r="2.45" fill="#0f6d37"/>
<circle cx="80.7" cy="585.3" r="2.45" fill="#0f6d37"/>
<circle cx="88.7" cy="585.3" r="2.45" fill="#0f6d37"/>
<circle cx="96.8" cy="585.3" r="2.45" fill="#0f6d37"/>
<circle cx="104.8" cy="585.3" r="2.45" fill="#0f6d37"/>
<circle cx="112.9" cy="585.3" r="2.45" fill="#0f6d37"/>
<circle cx="120.9" cy="585.3" r="2.45" fill="#0f6d37"/>
<circle cx="129.0" cy="585.3" r="2.45" fill="#0f6d37"/>
<circle cx="69.4" cy="590.6" r="2.45" fill="#0f6d37"/>
<circle cx="77.5" cy="590.6" r="2.45" fill="#0f6d37"/>
<circle cx="85.5" cy="590.6" r="2.45" fill="#0f6d37"/>
<circle cx="93.5" cy="590.6" r="2.45" fill="#0f6d37"/>
<circle cx="101.6" cy="590.6" r="2.45" fill="#0f6d37"/>
<circle cx="109.6" cy="590.6" r="2.45" fill="#0f6d37"/>
<circle cx="117.7" cy="590.6" r="2.45" fill="#0f6d37"/>
<circle cx="125.7" cy="590.6" r="2.45" fill="#0f6d37"/>
<circle cx="133.8" cy="590.6" r="2.45" fill="#0f6d37"/>
<circle cx="65.5" cy="595.6" r="2.45" fill="#0f6d37"/>
<circle cx="73.5" cy="595.6" r="2.45" fill="#0f6d37"/>
<circle cx="81.6" cy="595.6" r="2.45" fill="#0f6d37"/>
<circle cx="89.6" cy="595.6" r="2.45" fill="#0f6d37"/>
<circle cx="97.7" cy="595.6" r="2.45" fill="#0f6d37"/>
<circle cx="105.7" cy="595.6" r="2.45" fill="#0f6d37"/>
<circle cx="113.8" cy="595.6" r="2.45" fill="#0f6d37"/>
<circle cx="121.8" cy="595.6" r="2.45" fill="#0f6d37"/>
<circle cx="129.9" cy="595.6" r="2.45" fill="#0f6d37"/>
<line x1="60.5" y1="606.50" x2="160" y2="606.50" stroke="#222" stroke-width="1"/>
<line x1="65.5" y1="604.0" x2="65.5" y2="606.0" stroke="#222" stroke-width="0.9"/>
<line x1="74.8" y1="604.0" x2="74.8" y2="606.0" stroke="#222" stroke-width="0.9"/>
<line x1="84.2" y1="604.0" x2="84.2" y2="606.0" stroke="#222" stroke-width="0.9"/>
<line x1="93.5" y1="604.0" x2="93.5" y2="606.0" stroke="#222" stroke-width="0.9"/>
<line x1="102.9" y1="604.0" x2="102.9" y2="606.0" stroke="#222" stroke-width="0.9"/>
<line x1="112.2" y1="604.0" x2="112.2" y2="606.0" stroke="#222" stroke-width="0.9"/>
<line x1="121.6" y1="604.0" x2="121.6" y2="606.0" stroke="#222" stroke-width="0.9"/>
<line x1="130.9" y1="604.0" x2="130.9" y2="606.0" stroke="#222" stroke-width="0.9"/>
</g>
<path d="M60.5,69.5 H114.5 V97.5 H60.5 Z" fill="none" stroke="#1a1a1a" stroke-width="1" stroke-linejoin="round"/>
<path d="M60.5,97.5 H114.5 V207.5 H60.5 Z" fill="none" stroke="#1a1a1a" stroke-width="1" stroke-linejoin="round"/>
<path d="M60.5,207.5 H114.5 V214.5 H60.5 Z" fill="none" stroke="#1a1a1a" stroke-width="1" stroke-linejoin="round"/>
<path d="M60.5,214.5 H114.5 V217.6 Q115.5,221 120,221.2 L128.5,221.5 Q131.2,221.9 130.6,222.9 Q129.5,223.7 120,223.5 L114.5,223.5 H60.5 Z" fill="none" stroke="#1a1a1a" stroke-width="1" stroke-linejoin="round"/>
<path d="M60.5,223.5 H116 C118,226.3 122,227.6 128.6,228.2 C132.5,228.9 135,232 137.4,236.3 C139,239.5 140.2,243 144,243.3 L150,243.5 H60.5 Z" fill="none" stroke="#1a1a1a" stroke-width="1" stroke-linejoin="round"/>
<path d="M60.5,243.5 H151 Q157.5,243.7 157.5,250 V291.5 Q157.5,299.5 150,299.5 H60.5 Z" fill="none" stroke="#1a1a1a" stroke-width="1" stroke-linejoin="round"/>
<path d="M60.5,299.5 H145.5 V311.5 H60.5 Z" fill="none" stroke="#1a1a1a" stroke-width="1" stroke-linejoin="round"/>
<path d="M60.5,311.5 H146 Q152.3,311.8 152.3,317.6 Q152.3,323.5 146,323.5 H60.5 Z" fill="none" stroke="#1a1a1a" stroke-width="1" stroke-linejoin="round"/>
<path d="M60.5,323.5 H114.5 V355.5 H60.5 Z" fill="none" stroke="#1a1a1a" stroke-width="1" stroke-linejoin="round"/>
<path d="M60.5,355.5 H136.0 Q138.5,355.5 138.5,358.0 V374.0 Q138.5,376.5 136.0,376.5 H60.5 Z" fill="none" stroke="#1a1a1a" stroke-width="1" stroke-linejoin="round"/>
<path d="M60.5,376.5 H114.5 V423.5 H60.5 Z" fill="none" stroke="#1a1a1a" stroke-width="1" stroke-linejoin="round"/>
<path d="M60.5,423.5 H112.5 V429.5 H60.5 Z" fill="none" stroke="#1a1a1a" stroke-width="1" stroke-linejoin="round"/>
<path d="M60.5,429.5 H136.0 Q138.5,429.5 138.5,432.0 V444.0 Q138.5,446.5 136.0,446.5 H60.5 Z" fill="none" stroke="#1a1a1a" stroke-width="1" stroke-linejoin="round"/>
<path d="M60.5,446.5 H118.5 V473.5 Q118.8,477 124,477.2 L138,477.6 Q142,478 146,479.5 L156.5,480.3 Q159.5,481.3 156.8,482.6 L148,483.3 L128,483.5 H60.5 Z" fill="none" stroke="#1a1a1a" stroke-width="1" stroke-linejoin="round"/>
<path d="M60.5,483.5 H128.5 V488.5 H60.5 Z" fill="none" stroke="#1a1a1a" stroke-width="1" stroke-linejoin="round"/>
<path d="M60.5,488.5 H128.5 V490.5 Q128.5,492 126.3,492 H121 Q119.5,492.3 119.5,494 V495.5 H60.5 Z" fill="none" stroke="#1a1a1a" stroke-width="1" stroke-linejoin="round"/>
<path d="M60.5,495.5 H137.5 Q139.5,495.6 139.3,497.3 Q139,500.3 136.5,500.5 H60.5 Z" fill="none" stroke="#1a1a1a" stroke-width="1" stroke-linejoin="round"/>
<path d="M60.5,500.5 H118.5 V508.5 H60.5 Z" fill="none" stroke="#1a1a1a" stroke-width="1" stroke-linejoin="round"/>
<path d="M60.5,508.5 H118.5 V511 Q119,512.6 124,512.7 L138,512.5 H60.5 Z" fill="none" stroke="#1a1a1a" stroke-width="1" stroke-linejoin="round"/>
<path d="M60.5,512.5 H152 Q157.5,513 157.5,518.5 V520 Q157.5,523.5 150,524.8 Q140.5,526.5 139.5,531 V546.5 H131.6 Q130.6,547.5 131.6,549.5 H139.5 V567.5 H60.5 Z" fill="none" stroke="#1a1a1a" stroke-width="1" stroke-linejoin="round"/>
<path d="M60.5,567.5 H129.5 V576 Q129.5,578.6 132,579.5 Q133.9,580.3 133.9,583.5 H60.5 Z" fill="none" stroke="#1a1a1a" stroke-width="1" stroke-linejoin="round"/>
<path d="M60.5,583.5 H138.5 Q141,586 141,590.6 Q141,595 137.5,595.5 Q134.6,596.5 134.6,600 V602 Q135,605.5 138.6,608.5 H60.5 Z" fill="none" stroke="#1a1a1a" stroke-width="1" stroke-linejoin="round"/>
<g stroke="#222" fill="none">
<line x1="238" y1="63.5" x2="409.3" y2="63.5" stroke-width="1"/>
<line x1="238.5" y1="63.5" x2="238.5" y2="58" stroke-width="0.9"/>
<line x1="240.17" y1="63.5" x2="240.17" y2="60.2" stroke-width="0.6" stroke="#555"/>
<line x1="242.36" y1="63.5" x2="242.36" y2="60.2" stroke-width="0.6" stroke="#555"/>
<line x1="244.55" y1="63.5" x2="244.55" y2="59.0" stroke-width="0.7" stroke="#444"/>
<line x1="246.74" y1="63.5" x2="246.74" y2="60.2" stroke-width="0.6" stroke="#555"/>
<line x1="248.93" y1="63.5" x2="248.93" y2="60.2" stroke-width="0.6" stroke="#555"/>
<line x1="251.12" y1="63.5" x2="251.12" y2="60.2" stroke-width="0.6" stroke="#555"/>
<line x1="253.31" y1="63.5" x2="253.31" y2="60.2" stroke-width="0.6" stroke="#555"/>
<line x1="255.50" y1="63.5" x2="255.50" y2="57.2" stroke-width="0.9"/>
<line x1="257.69" y1="63.5" x2="257.69" y2="60.2" stroke-width="0.6" stroke="#555"/>
<line x1="259.88" y1="63.5" x2="259.88" y2="60.2" stroke-width="0.6" stroke="#555"/>
<line x1="262.07" y1="63.5" x2="262.07" y2="60.2" stroke-width="0.6" stroke="#555"/>
<line x1="264.26" y1="63.5" x2="264.26" y2="60.2" stroke-width="0.6" stroke="#555"/>
<line x1="266.45" y1="63.5" x2="266.45" y2="59.0" stroke-width="0.7" stroke="#444"/>
<line x1="268.64" y1="63.5" x2="268.64" y2="60.2" stroke-width="0.6" stroke="#555"/>
<line x1="270.83" y1="63.5" x2="270.83" y2="60.2" stroke-width="0.6" stroke="#555"/>
<line x1="273.02" y1="63.5" x2="273.02" y2="60.2" stroke-width="0.6" stroke="#555"/>
<line x1="275.21" y1="63.5" x2="275.21" y2="60.2" stroke-width="0.6" stroke="#555"/>
<line x1="277.40" y1="63.5" x2="277.40" y2="57.2" stroke-width="0.9"/>
<line x1="279.59" y1="63.5" x2="279.59" y2="60.2" stroke-width="0.6" stroke="#555"/>
<line x1="281.78" y1="63.5" x2="281.78" y2="60.2" stroke-width="0.6" stroke="#555"/>
<line x1="283.97" y1="63.5" x2="283.97" y2="60.2" stroke-width="0.6" stroke="#555"/>
<line x1="286.16" y1="63.5" x2="286.16" y2="60.2" stroke-width="0.6" stroke="#555"/>
<line x1="288.35" y1="63.5" x2="288.35" y2="59.0" stroke-width="0.7" stroke="#444"/>
<line x1="290.54" y1="63.5" x2="290.54" y2="60.2" stroke-width="0.6" stroke="#555"/>
<line x1="292.73" y1="63.5" x2="292.73" y2="60.2" stroke-width="0.6" stroke="#555"/>
<line x1="294.92" y1="63.5" x2="294.92" y2="60.2" stroke-width="0.6" stroke="#555"/>
<line x1="297.11" y1="63.5" x2="297.11" y2="60.2" stroke-width="0.6" stroke="#555"/>
<line x1="299.30" y1="63.5" x2="299.30" y2="57.2" stroke-width="0.9"/>
<line x1="301.49" y1="63.5" x2="301.49" y2="60.2" stroke-width="0.6" stroke="#555"/>
<line x1="303.68" y1="63.5" x2="303.68" y2="60.2" stroke-width="0.6" stroke="#555"/>
<line x1="305.87" y1="63.5" x2="305.87" y2="60.2" stroke-width="0.6" stroke="#555"/>
<line x1="308.06" y1="63.5" x2="308.06" y2="60.2" stroke-width="0.6" stroke="#555"/>
<line x1="310.25" y1="63.5" x2="310.25" y2="59.0" stroke-width="0.7" stroke="#444"/>
<line x1="312.44" y1="63.5" x2="312.44" y2="60.2" stroke-width="0.6" stroke="#555"/>
<line x1="314.63" y1="63.5" x2="314.63" y2="60.2" stroke-width="0.6" stroke="#555"/>
<line x1="316.82" y1="63.5" x2="316.82" y2="60.2" stroke-width="0.6" stroke="#555"/>
<line x1="319.01" y1="63.5" x2="319.01" y2="60.2" stroke-width="0.6" stroke="#555"/>
<line x1="321.20" y1="63.5" x2="321.20" y2="57.2" stroke-width="0.9"/>
<line x1="323.39" y1="63.5" x2="323.39" y2="60.2" stroke-width="0.6" stroke="#555"/>
<line x1="325.58" y1="63.5" x2="325.58" y2="60.2" stroke-width="0.6" stroke="#555"/>
<line x1="327.77" y1="63.5" x2="327.77" y2="60.2" stroke-width="0.6" stroke="#555"/>
<line x1="329.96" y1="63.5" x2="329.96" y2="60.2" stroke-width="0.6" stroke="#555"/>
<line x1="332.15" y1="63.5" x2="332.15" y2="59.0" stroke-width="0.7" stroke="#444"/>
<line x1="334.34" y1="63.5" x2="334.34" y2="60.2" stroke-width="0.6" stroke="#555"/>
<line x1="336.53" y1="63.5" x2="336.53" y2="60.2" stroke-width="0.6" stroke="#555"/>
<line x1="338.72" y1="63.5" x2="338.72" y2="60.2" stroke-width="0.6" stroke="#555"/>
<line x1="340.91" y1="63.5" x2="340.91" y2="60.2" stroke-width="0.6" stroke="#555"/>
<line x1="343.10" y1="63.5" x2="343.10" y2="57.2" stroke-width="0.9"/>
<line x1="345.29" y1="63.5" x2="345.29" y2="60.2" stroke-width="0.6" stroke="#555"/>
<line x1="347.48" y1="63.5" x2="347.48" y2="60.2" stroke-width="0.6" stroke="#555"/>
<line x1="349.67" y1="63.5" x2="349.67" y2="60.2" stroke-width="0.6" stroke="#555"/>
<line x1="351.86" y1="63.5" x2="351.86" y2="60.2" stroke-width="0.6" stroke="#555"/>
<line x1="354.05" y1="63.5" x2="354.05" y2="59.0" stroke-width="0.7" stroke="#444"/>
<line x1="356.24" y1="63.5" x2="356.24" y2="60.2" stroke-width="0.6" stroke="#555"/>
<line x1="358.43" y1="63.5" x2="358.43" y2="60.2" stroke-width="0.6" stroke="#555"/>
<line x1="360.62" y1="63.5" x2="360.62" y2="60.2" stroke-width="0.6" stroke="#555"/>
<line x1="362.81" y1="63.5" x2="362.81" y2="60.2" stroke-width="0.6" stroke="#555"/>
<line x1="365.00" y1="63.5" x2="365.00" y2="57.2" stroke-width="0.9"/>
<line x1="367.19" y1="63.5" x2="367.19" y2="60.2" stroke-width="0.6" stroke="#555"/>
<line x1="369.38" y1="63.5" x2="369.38" y2="60.2" stroke-width="0.6" stroke="#555"/>
<line x1="371.57" y1="63.5" x2="371.57" y2="60.2" stroke-width="0.6" stroke="#555"/>
<line x1="373.76" y1="63.5" x2="373.76" y2="60.2" stroke-width="0.6" stroke="#555"/>
<line x1="375.95" y1="63.5" x2="375.95" y2="59.0" stroke-width="0.7" stroke="#444"/>
<line x1="378.14" y1="63.5" x2="378.14" y2="60.2" stroke-width="0.6" stroke="#555"/>
<line x1="380.33" y1="63.5" x2="380.33" y2="60.2" stroke-width="0.6" stroke="#555"/>
<line x1="382.52" y1="63.5" x2="382.52" y2="60.2" stroke-width="0.6" stroke="#555"/>
<line x1="384.71" y1="63.5" x2="384.71" y2="60.2" stroke-width="0.6" stroke="#555"/>
<line x1="386.90" y1="63.5" x2="386.90" y2="57.2" stroke-width="0.9"/>
<line x1="389.09" y1="63.5" x2="389.09" y2="60.2" stroke-width="0.6" stroke="#555"/>
<line x1="391.28" y1="63.5" x2="391.28" y2="60.2" stroke-width="0.6" stroke="#555"/>
<line x1="393.47" y1="63.5" x2="393.47" y2="60.2" stroke-width="0.6" stroke="#555"/>
<line x1="395.66" y1="63.5" x2="395.66" y2="60.2" stroke-width="0.6" stroke="#555"/>
<line x1="397.85" y1="63.5" x2="397.85" y2="59.0" stroke-width="0.7" stroke="#444"/>
<line x1="400.04" y1="63.5" x2="400.04" y2="60.2" stroke-width="0.6" stroke="#555"/>
<line x1="402.23" y1="63.5" x2="402.23" y2="60.2" stroke-width="0.6" stroke="#555"/>
<line x1="404.42" y1="63.5" x2="404.42" y2="60.2" stroke-width="0.6" stroke="#555"/>
<line x1="406.61" y1="63.5" x2="406.61" y2="60.2" stroke-width="0.6" stroke="#555"/>
<line x1="408.80" y1="63.5" x2="408.80" y2="57.2" stroke-width="0.9"/>
</g>
<text x="238.4" y="53.6" font-size="13.5" text-anchor="middle" fill="#222" transform="matrix(1,0,0,1.05,0,-2.680)">1900</text>
<text x="277.4" y="53.6" font-size="13.5" text-anchor="middle" fill="#222" transform="matrix(1,0,0,1.05,0,-2.680)">0</text>
<text x="321.2" y="53.6" font-size="13.5" text-anchor="middle" fill="#222" transform="matrix(1,0,0,1.05,0,-2.680)">2000</text>
<text x="365.0" y="53.6" font-size="13.5" text-anchor="middle" fill="#222" transform="matrix(1,0,0,1.05,0,-2.680)">4000</text>
<text x="408.8" y="53.6" font-size="13.5" text-anchor="middle" fill="#222" transform="matrix(1,0,0,1.05,0,-2.680)">6000</text>
<text x="324.5" y="35.9" font-size="14" font-weight="bold" text-anchor="middle" fill="#1a1a1a" transform="matrix(1,0,0,1.05,0,-1.795)">Ages calibrated yr AD - BC</text>
<g stroke="#222" fill="none">
<line x1="235.5" y1="615.5" x2="411.7" y2="615.5" stroke-width="1"/>
<line x1="236.00" y1="615.5" x2="236.00" y2="622" stroke-width="0.9"/>
<line x1="238.19" y1="615.5" x2="238.19" y2="619.2" stroke-width="0.6" stroke="#555"/>
<line x1="240.38" y1="615.5" x2="240.38" y2="619.2" stroke-width="0.6" stroke="#555"/>
<line x1="242.57" y1="615.5" x2="242.57" y2="619.2" stroke-width="0.6" stroke="#555"/>
<line x1="244.76" y1="615.5" x2="244.76" y2="619.2" stroke-width="0.6" stroke="#555"/>
<line x1="246.95" y1="615.5" x2="246.95" y2="620.3" stroke-width="0.7" stroke="#444"/>
<line x1="249.14" y1="615.5" x2="249.14" y2="619.2" stroke-width="0.6" stroke="#555"/>
<line x1="251.33" y1="615.5" x2="251.33" y2="619.2" stroke-width="0.6" stroke="#555"/>
<line x1="253.52" y1="615.5" x2="253.52" y2="619.2" stroke-width="0.6" stroke="#555"/>
<line x1="255.71" y1="615.5" x2="255.71" y2="619.2" stroke-width="0.6" stroke="#555"/>
<line x1="257.90" y1="615.5" x2="257.90" y2="622" stroke-width="0.9"/>
<line x1="260.09" y1="615.5" x2="260.09" y2="619.2" stroke-width="0.6" stroke="#555"/>
<line x1="262.28" y1="615.5" x2="262.28" y2="619.2" stroke-width="0.6" stroke="#555"/>
<line x1="264.47" y1="615.5" x2="264.47" y2="619.2" stroke-width="0.6" stroke="#555"/>
<line x1="266.66" y1="615.5" x2="266.66" y2="619.2" stroke-width="0.6" stroke="#555"/>
<line x1="268.85" y1="615.5" x2="268.85" y2="620.3" stroke-width="0.7" stroke="#444"/>
<line x1="271.04" y1="615.5" x2="271.04" y2="619.2" stroke-width="0.6" stroke="#555"/>
<line x1="273.23" y1="615.5" x2="273.23" y2="619.2" stroke-width="0.6" stroke="#555"/>
<line x1="275.42" y1="615.5" x2="275.42" y2="619.2" stroke-width="0.6" stroke="#555"/>
<line x1="277.61" y1="615.5" x2="277.61" y2="619.2" stroke-width="0.6" stroke="#555"/>
<line x1="279.80" y1="615.5" x2="279.80" y2="622" stroke-width="0.9"/>
<line x1="281.99" y1="615.5" x2="281.99" y2="619.2" stroke-width="0.6" stroke="#555"/>
<line x1="284.18" y1="615.5" x2="284.18" y2="619.2" stroke-width="0.6" stroke="#555"/>
<line x1="286.37" y1="615.5" x2="286.37" y2="619.2" stroke-width="0.6" stroke="#555"/>
<line x1="288.56" y1="615.5" x2="288.56" y2="619.2" stroke-width="0.6" stroke="#555"/>
<line x1="290.75" y1="615.5" x2="290.75" y2="620.3" stroke-width="0.7" stroke="#444"/>
<line x1="292.94" y1="615.5" x2="292.94" y2="619.2" stroke-width="0.6" stroke="#555"/>
<line x1="295.13" y1="615.5" x2="295.13" y2="619.2" stroke-width="0.6" stroke="#555"/>
<line x1="297.32" y1="615.5" x2="297.32" y2="619.2" stroke-width="0.6" stroke="#555"/>
<line x1="299.51" y1="615.5" x2="299.51" y2="619.2" stroke-width="0.6" stroke="#555"/>
<line x1="301.70" y1="615.5" x2="301.70" y2="622" stroke-width="0.9"/>
<line x1="303.89" y1="615.5" x2="303.89" y2="619.2" stroke-width="0.6" stroke="#555"/>
<line x1="306.08" y1="615.5" x2="306.08" y2="619.2" stroke-width="0.6" stroke="#555"/>
<line x1="308.27" y1="615.5" x2="308.27" y2="619.2" stroke-width="0.6" stroke="#555"/>
<line x1="310.46" y1="615.5" x2="310.46" y2="619.2" stroke-width="0.6" stroke="#555"/>
<line x1="312.65" y1="615.5" x2="312.65" y2="620.3" stroke-width="0.7" stroke="#444"/>
<line x1="314.84" y1="615.5" x2="314.84" y2="619.2" stroke-width="0.6" stroke="#555"/>
<line x1="317.03" y1="615.5" x2="317.03" y2="619.2" stroke-width="0.6" stroke="#555"/>
<line x1="319.22" y1="615.5" x2="319.22" y2="619.2" stroke-width="0.6" stroke="#555"/>
<line x1="321.41" y1="615.5" x2="321.41" y2="619.2" stroke-width="0.6" stroke="#555"/>
<line x1="323.60" y1="615.5" x2="323.60" y2="622" stroke-width="0.9"/>
<line x1="325.79" y1="615.5" x2="325.79" y2="619.2" stroke-width="0.6" stroke="#555"/>
<line x1="327.98" y1="615.5" x2="327.98" y2="619.2" stroke-width="0.6" stroke="#555"/>
<line x1="330.17" y1="615.5" x2="330.17" y2="619.2" stroke-width="0.6" stroke="#555"/>
<line x1="332.36" y1="615.5" x2="332.36" y2="619.2" stroke-width="0.6" stroke="#555"/>
<line x1="334.55" y1="615.5" x2="334.55" y2="620.3" stroke-width="0.7" stroke="#444"/>
<line x1="336.74" y1="615.5" x2="336.74" y2="619.2" stroke-width="0.6" stroke="#555"/>
<line x1="338.93" y1="615.5" x2="338.93" y2="619.2" stroke-width="0.6" stroke="#555"/>
<line x1="341.12" y1="615.5" x2="341.12" y2="619.2" stroke-width="0.6" stroke="#555"/>
<line x1="343.31" y1="615.5" x2="343.31" y2="619.2" stroke-width="0.6" stroke="#555"/>
<line x1="345.50" y1="615.5" x2="345.50" y2="622" stroke-width="0.9"/>
<line x1="347.69" y1="615.5" x2="347.69" y2="619.2" stroke-width="0.6" stroke="#555"/>
<line x1="349.88" y1="615.5" x2="349.88" y2="619.2" stroke-width="0.6" stroke="#555"/>
<line x1="352.07" y1="615.5" x2="352.07" y2="619.2" stroke-width="0.6" stroke="#555"/>
<line x1="354.26" y1="615.5" x2="354.26" y2="619.2" stroke-width="0.6" stroke="#555"/>
<line x1="356.45" y1="615.5" x2="356.45" y2="620.3" stroke-width="0.7" stroke="#444"/>
<line x1="358.64" y1="615.5" x2="358.64" y2="619.2" stroke-width="0.6" stroke="#555"/>
<line x1="360.83" y1="615.5" x2="360.83" y2="619.2" stroke-width="0.6" stroke="#555"/>
<line x1="363.02" y1="615.5" x2="363.02" y2="619.2" stroke-width="0.6" stroke="#555"/>
<line x1="365.21" y1="615.5" x2="365.21" y2="619.2" stroke-width="0.6" stroke="#555"/>
<line x1="367.40" y1="615.5" x2="367.40" y2="622" stroke-width="0.9"/>
<line x1="369.59" y1="615.5" x2="369.59" y2="619.2" stroke-width="0.6" stroke="#555"/>
<line x1="371.78" y1="615.5" x2="371.78" y2="619.2" stroke-width="0.6" stroke="#555"/>
<line x1="373.97" y1="615.5" x2="373.97" y2="619.2" stroke-width="0.6" stroke="#555"/>
<line x1="376.16" y1="615.5" x2="376.16" y2="619.2" stroke-width="0.6" stroke="#555"/>
<line x1="378.35" y1="615.5" x2="378.35" y2="620.3" stroke-width="0.7" stroke="#444"/>
<line x1="380.54" y1="615.5" x2="380.54" y2="619.2" stroke-width="0.6" stroke="#555"/>
<line x1="382.73" y1="615.5" x2="382.73" y2="619.2" stroke-width="0.6" stroke="#555"/>
<line x1="384.92" y1="615.5" x2="384.92" y2="619.2" stroke-width="0.6" stroke="#555"/>
<line x1="387.11" y1="615.5" x2="387.11" y2="619.2" stroke-width="0.6" stroke="#555"/>
<line x1="389.30" y1="615.5" x2="389.30" y2="622" stroke-width="0.9"/>
<line x1="391.49" y1="615.5" x2="391.49" y2="619.2" stroke-width="0.6" stroke="#555"/>
<line x1="393.68" y1="615.5" x2="393.68" y2="619.2" stroke-width="0.6" stroke="#555"/>
<line x1="395.87" y1="615.5" x2="395.87" y2="619.2" stroke-width="0.6" stroke="#555"/>
<line x1="398.06" y1="615.5" x2="398.06" y2="619.2" stroke-width="0.6" stroke="#555"/>
<line x1="400.25" y1="615.5" x2="400.25" y2="620.3" stroke-width="0.7" stroke="#444"/>
<line x1="402.44" y1="615.5" x2="402.44" y2="619.2" stroke-width="0.6" stroke="#555"/>
<line x1="404.63" y1="615.5" x2="404.63" y2="619.2" stroke-width="0.6" stroke="#555"/>
<line x1="406.82" y1="615.5" x2="406.82" y2="619.2" stroke-width="0.6" stroke="#555"/>
<line x1="409.01" y1="615.5" x2="409.01" y2="619.2" stroke-width="0.6" stroke="#555"/>
<line x1="411.20" y1="615.5" x2="411.20" y2="622" stroke-width="0.9"/>
</g>
<text x="236.0" y="633.9" font-size="13.5" text-anchor="middle" fill="#222" transform="matrix(1,0,0,1.05,0,-31.695)">0</text>
<text x="279.8" y="633.9" font-size="13.5" text-anchor="middle" fill="#222" transform="matrix(1,0,0,1.05,0,-31.695)">2000</text>
<text x="323.6" y="633.9" font-size="13.5" text-anchor="middle" fill="#222" transform="matrix(1,0,0,1.05,0,-31.695)">4000</text>
<text x="367.4" y="633.9" font-size="13.5" text-anchor="middle" fill="#222" transform="matrix(1,0,0,1.05,0,-31.695)">6000</text>
<text x="411.2" y="633.9" font-size="13.5" text-anchor="middle" fill="#222" transform="matrix(1,0,0,1.05,0,-31.695)">8000</text>
<text x="323.2" y="651" font-size="14" font-weight="bold" text-anchor="middle" fill="#1a1a1a" transform="matrix(1,0,0,1.05,0,-32.550)">Ages calibrated yr BP</text>
<polyline points="236.2,69.3 407,585.5" fill="none" stroke="#9d48da" stroke-width="0.85"/>
<polygon points="320.6,267.0 321.6,266.6 326.9,297.0 349.3,361.6 351.6,371 355.2,434 361.0,494.0 403.4,548.3 405.8,572 408.8,583 411.9,602.9 409.4,602.9 403.9,572 401.8,549 357.8,494.6 351.8,434 345.2,372 325.1,297.4" fill="#9a9a9a"/>
<polyline points="236.0,75.1 250.6,221.2 320.8,266.7 325.9,297.2 346.0,372 352.6,434 358.6,494.2 402.4,548.5 404.6,572 409.9,602.7" fill="none" stroke="#a5a5a5" stroke-width="0.9" transform="translate(0.55,-0.35)"/>
<polyline points="236.0,75.1 250.6,221.2 320.8,266.7 325.9,297.2 346.0,372 352.6,434 358.6,494.2 402.4,548.5 404.6,572 409.9,602.7" fill="none" stroke="#e62d98" stroke-width="1.2" stroke-dasharray="2.4,1.6"/>
<rect x="286.8" y="259.8" width="22.399999999999977" height="13.4" fill="#fff"/>
<rect x="188.0" y="245.0" width="95" height="28.8" fill="#fff"/>
<rect x="296.4" y="289.90000000000003" width="21.600000000000023" height="13.4" fill="#fff"/>
<rect x="197.39999999999998" y="275.09999999999997" width="95" height="29.100000000000012" fill="#fff"/>
<rect x="305.8" y="316.7" width="21.80000000000001" height="13.4" fill="#fff"/>
<rect x="207.0" y="301.3" width="95" height="29.399999999999967" fill="#fff"/>
<rect x="317.5" y="364.90000000000003" width="21.80000000000001" height="13.4" fill="#fff"/>
<rect x="217.2" y="349.5" width="95" height="29.100000000000012" fill="#fff"/>
<rect x="327.5" y="487.8" width="21.899999999999977" height="13.4" fill="#fff"/>
<rect x="227.89999999999998" y="472.9" width="95" height="29.3" fill="#fff"/>
<rect x="367.6" y="541.8" width="22.19999999999999" height="13.4" fill="#fff"/>
<rect x="268.4" y="526.9000000000001" width="95" height="29.199999999999978" fill="#fff"/>
<rect x="367.6" y="556.3" width="22.19999999999999" height="13.4" fill="#fff"/>
<rect x="268.4" y="553.2" width="95" height="29.3" fill="#fff"/>
<rect x="380.5" y="595.6999999999999" width="22.19999999999999" height="13.4" fill="#fff"/>
<rect x="281.2" y="580.5" width="95" height="29.3" fill="#fff"/>
<text x="281.5" y="257.2" font-size="14" font-weight="bold" text-anchor="end" fill="#8c2232" transform="matrix(1,0,0,1.05,0,-12.860)">Beta-448578</text>
<text x="283.0" y="270.8" font-size="14.15" text-anchor="end" fill="#8c2232" transform="matrix(1,0,0,1.05,0,-13.540)">3560 ± 30 <tspan font-size="7.8" dy="-4.8">14</tspan><tspan dy="4.8">C BP</tspan></text>
<g fill="#999" stroke="#999"><line x1="287.8" y1="263.3" x2="287.8" y2="269.7" stroke-width="1"/><line x1="287.8" y1="266.5" x2="302.2" y2="266.5" stroke-width="1"/><path d="M308.2,266.5 L296.2,261.6 L299.9,266.5 L296.2,271.4 Z" stroke="none"/></g>
<text x="290.9" y="287.3" font-size="14" font-weight="bold" text-anchor="end" fill="#8c2232" transform="matrix(1,0,0,1.05,0,-14.365)">Beta-448580</text>
<text x="292.4" y="301.2" font-size="14.15" text-anchor="end" fill="#8c2232" transform="matrix(1,0,0,1.05,0,-15.060)">3740 ± 30 <tspan font-size="7.8" dy="-4.8">14</tspan><tspan dy="4.8">C BP</tspan></text>
<g fill="#999" stroke="#999"><line x1="297.4" y1="293.40000000000003" x2="297.4" y2="299.8" stroke-width="1"/><line x1="297.4" y1="296.6" x2="311.0" y2="296.6" stroke-width="1"/><path d="M317.0,296.6 L305.0,291.70000000000005 L308.7,296.6 L305.0,301.5 Z" stroke="none"/></g>
<text x="301.2" y="313.5" font-size="14" font-weight="bold" text-anchor="end" fill="#8c2232" transform="matrix(1,0,0,1.05,0,-15.675)">Beta-448583</text>
<text x="302.0" y="327.7" font-size="14.15" text-anchor="end" fill="#8c2232" transform="matrix(1,0,0,1.05,0,-16.385)">4030 ± 30 <tspan font-size="7.8" dy="-4.8">14</tspan><tspan dy="4.8">C BP</tspan></text>
<g fill="#999" stroke="#999"><line x1="306.8" y1="320.2" x2="306.8" y2="326.59999999999997" stroke-width="1"/><line x1="306.8" y1="323.4" x2="320.6" y2="323.4" stroke-width="1"/><path d="M326.6,323.4 L314.6,318.5 L318.3,323.4 L314.6,328.29999999999995 Z" stroke="none"/></g>
<text x="311.4" y="361.7" font-size="14" font-weight="bold" text-anchor="end" fill="#8c2232" transform="matrix(1,0,0,1.05,0,-18.085)">Beta-448579</text>
<text x="312.2" y="375.6" font-size="14.15" text-anchor="end" fill="#8c2232" transform="matrix(1,0,0,1.05,0,-18.780)">4490 ± 30 <tspan font-size="7.8" dy="-4.8">14</tspan><tspan dy="4.8">C BP</tspan></text>
<g fill="#999" stroke="#999"><line x1="318.5" y1="368.40000000000003" x2="318.5" y2="374.8" stroke-width="1"/><line x1="318.5" y1="371.6" x2="332.3" y2="371.6" stroke-width="1"/><path d="M338.3,371.6 L326.3,366.70000000000005 L330.0,371.6 L326.3,376.5 Z" stroke="none"/></g>
<text x="321.6" y="485.1" font-size="14" font-weight="bold" text-anchor="end" fill="#8c2232" transform="matrix(1,0,0,1.05,0,-24.255)">Beta-448581</text>
<text x="322.9" y="499.2" font-size="14.15" text-anchor="end" fill="#8c2232" transform="matrix(1,0,0,1.05,0,-24.960)">4960 ± 40 <tspan font-size="7.8" dy="-4.8">14</tspan><tspan dy="4.8">C BP</tspan></text>
<g fill="#999" stroke="#999"><line x1="328.5" y1="491.3" x2="328.5" y2="497.7" stroke-width="1"/><line x1="328.5" y1="494.5" x2="342.4" y2="494.5" stroke-width="1"/><path d="M348.4,494.5 L336.4,489.6 L340.09999999999997,494.5 L336.4,499.4 Z" stroke="none"/></g>
<text x="363.0" y="539.1" font-size="14" font-weight="bold" text-anchor="end" fill="#8c2232" transform="matrix(1,0,0,1.05,0,-26.955)">Beta-448586</text>
<text x="363.4" y="553.1" font-size="14.15" text-anchor="end" fill="#8c2232" transform="matrix(1,0,0,1.05,0,-27.655)">6800 ± 40 <tspan font-size="7.8" dy="-4.8">14</tspan><tspan dy="4.8">C BP</tspan></text>
<g fill="#999" stroke="#999"><line x1="368.6" y1="545.3" x2="368.6" y2="551.7" stroke-width="1"/><line x1="368.6" y1="548.5" x2="382.8" y2="548.5" stroke-width="1"/><path d="M388.8,548.5 L376.8,543.6 L380.5,548.5 L376.8,553.4 Z" stroke="none"/></g>
<text x="363.0" y="565.4" font-size="14" font-weight="bold" text-anchor="end" fill="#8c2232" transform="matrix(1,0,0,1.05,0,-28.270)">Beta-448585</text>
<text x="363.4" y="579.5" font-size="14.15" text-anchor="end" fill="#8c2232" transform="matrix(1,0,0,1.05,0,-28.975)">6880 ± 30 <tspan font-size="7.8" dy="-4.8">14</tspan><tspan dy="4.8">C BP</tspan></text>
<g fill="#999" stroke="#999"><line x1="368.6" y1="559.8" x2="368.6" y2="566.2" stroke-width="1"/><line x1="368.6" y1="563.0" x2="382.8" y2="563.0" stroke-width="1"/><path d="M388.8,563.0 L376.8,558.1 L380.5,563.0 L376.8,567.9 Z" stroke="none"/></g>
<text x="376.2" y="592.7" font-size="14" font-weight="bold" text-anchor="end" fill="#8c2232" transform="matrix(1,0,0,1.05,0,-29.635)">Beta-448584</text>
<text x="376.2" y="606.8" font-size="14.15" text-anchor="end" fill="#8c2232" transform="matrix(1,0,0,1.05,0,-30.340)">7180 ± 30 <tspan font-size="7.8" dy="-4.8">14</tspan><tspan dy="4.8">C BP</tspan></text>
<g fill="#999" stroke="#999"><line x1="381.5" y1="599.1999999999999" x2="381.5" y2="605.6" stroke-width="1"/><line x1="381.5" y1="602.4" x2="395.7" y2="602.4" stroke-width="1"/><path d="M401.7,602.4 L389.7,597.5 L393.4,602.4 L389.7,607.3 Z" stroke="none"/></g>
<rect x="262" y="200.5" width="112" height="28.5" fill="#fff"/>
<text x="289.8" y="211.8" font-size="14" font-weight="bold" fill="#8c2232" transform="matrix(1,0,0,1.05,0,-10.590)">Beta-448577</text>
<text x="289.8" y="225.8" font-size="14.15" fill="#8c2232" transform="matrix(1,0,0,1.05,0,-11.290)">740 ± 30 <tspan font-size="7.8" dy="-4.8">14</tspan><tspan dy="4.8">C BP</tspan></text>
<g fill="#999" stroke="#999"><line x1="282.5" y1="218.10000000000002" x2="282.5" y2="224.5" stroke-width="1"/><line x1="269.1" y1="221.3" x2="282.5" y2="221.3" stroke-width="1"/><path d="M263.1,221.3 L275.1,216.4 L271.40000000000003,221.3 L275.1,226.20000000000002 Z" stroke="none"/></g>
<line x1="235" y1="672" x2="247.3" y2="672" stroke="#999" stroke-width="3.2"/>
<text x="250.5" y="676.2" font-size="14" fill="#222" transform="matrix(1,0,0,1.05,0,-33.810)">2σ calibration</text>
<line x1="235" y1="689.2" x2="247" y2="689.2" stroke="#e8219a" stroke-width="1.2" stroke-dasharray="2.6,1.9"/>
<text x="250.5" y="693.4" font-size="14" fill="#222" transform="matrix(1,0,0,1.05,0,-34.670)">Age-model</text>
<line x1="235" y1="707.5" x2="247.3" y2="707.5" stroke="#c48ee8" stroke-width="1.2"/>
<text x="250.5" y="711.4" font-size="14" fill="#222" transform="matrix(1,0,0,1.05,0,-35.570)">Linear model</text>
<text x="252.6" y="726" font-size="14" fill="#222" transform="matrix(1,0,0,1.05,0,-36.300)">R<tspan font-size="7.8" dy="-5">2</tspan><tspan dy="5"> = 0.924</tspan></text>
<text x="252.6" y="740.4" font-size="14" fill="#222" transform="matrix(1,0,0,1.05,0,-37.020)">P<tspan font-size="8.3" font-style="italic" dy="4.8">value</tspan><tspan dy="-4.8"> &lt; 0.001</tspan></text>
<rect x="60.5" y="616.3" width="25.1" height="14.3" fill="#9d8576" stroke="#2a2a2a" stroke-width="1"/>
<text x="91.5" y="627.8" font-size="13.5" fill="#222" transform="matrix(1,0,0,1.05,0,-31.390)">Anthropogenic</text>
<rect x="60.5" y="635.0" width="25.1" height="14.3" fill="#fff" stroke="#2a2a2a" stroke-width="1"/>
<line x1="70.2" y1="636.0" x2="79.5" y2="636.0" stroke="#444" stroke-width="1"/>
<line x1="61" y1="648.3" x2="69.6" y2="648.3" stroke="#444" stroke-width="1"/><line x1="80.1" y1="648.3" x2="85.2" y2="648.3" stroke="#444" stroke-width="1"/>
<text x="91.5" y="646.5" font-size="13.5" fill="#222" transform="matrix(1,0,0,1.05,0,-32.325)">Soft clay and silt</text>
<rect x="60.5" y="653.5" width="25.1" height="14.3" fill="#fff" stroke="#2a2a2a" stroke-width="1"/>
<line x1="60.5" y1="655.5" x2="85.6" y2="655.5" stroke="#333" stroke-width="0.75"/>
<line x1="60.5" y1="657.8" x2="85.6" y2="657.8" stroke="#333" stroke-width="0.75"/>
<line x1="60.5" y1="660.1" x2="85.6" y2="660.1" stroke="#333" stroke-width="0.75"/>
<line x1="60.5" y1="662.4" x2="85.6" y2="662.4" stroke="#333" stroke-width="0.75"/>
<line x1="60.5" y1="664.7" x2="85.6" y2="664.7" stroke="#333" stroke-width="0.75"/>
<text x="91.5" y="665.0" font-size="13.5" fill="#222" transform="matrix(1,0,0,1.05,0,-33.250)">Stiff clay and silt</text>
<rect x="60.5" y="672.1" width="25.1" height="14.3" fill="#fff" stroke="#2a2a2a" stroke-width="1"/>
<rect x="66.5" y="676.6" width="1" height="1" fill="#444"/>
<rect x="73.5" y="675.6" width="1" height="1" fill="#444"/>
<rect x="70.0" y="681.6" width="1" height="1" fill="#444"/>
<rect x="78.5" y="678.1" width="1" height="1" fill="#444"/>
<rect x="64.5" y="684.1" width="1" height="1" fill="#444"/>
<rect x="81.5" y="684.6" width="1" height="1" fill="#444"/>
<text x="91.5" y="683.6" font-size="13.5" fill="#222" transform="matrix(1,0,0,1.05,0,-34.180)">Sand/silty sand</text>
<rect x="60.5" y="691.4" width="25.1" height="14.3" fill="#fff" stroke="#2a2a2a" stroke-width="1"/>
<line x1="60.5" y1="692.6" x2="85.6" y2="692.6" stroke="#333" stroke-width="0.8"/>
<line x1="60.8" y1="701.4" x2="69" y2="701.4" stroke="#333" stroke-width="0.9"/>
<line x1="74.3" y1="701.4" x2="76" y2="701.4" stroke="#333" stroke-width="0.9"/>
<line x1="77.8" y1="701.4" x2="80.1" y2="701.4" stroke="#333" stroke-width="0.9"/>
<line x1="81.9" y1="701.4" x2="84.8" y2="701.4" stroke="#333" stroke-width="0.9"/>
<text x="91.5" y="702.9" font-size="13.5" fill="#222" transform="matrix(1,0,0,1.05,0,-35.145)">Sandy silt</text>
<rect x="60.5" y="709.8" width="25.1" height="14.3" fill="#fff" stroke="#2a2a2a" stroke-width="1"/>
<line x1="60.5" y1="711.0" x2="85.6" y2="711.0" stroke="#444" stroke-width="0.7"/>
<line x1="60.5" y1="719.8" x2="85.6" y2="719.8" stroke="#333" stroke-width="0.9"/>
<line x1="62.0" y1="715.5999999999999" x2="84.6" y2="715.5999999999999" stroke="#333" stroke-width="0.8" stroke-dasharray="0.9,1.3"/>
<text x="91.5" y="721.3" font-size="13.5" fill="#222" transform="matrix(1,0,0,1.05,0,-36.065)">Sandy layer</text>
<rect x="60.5" y="728.4" width="25.1" height="14.3" fill="#fff" stroke="#2a2a2a" stroke-width="1"/>
<circle cx="69" cy="731.7" r="2.3" fill="#0f6d37"/>
<circle cx="77.8" cy="731.7" r="2.3" fill="#0f6d37"/>
<circle cx="64.3" cy="735.5" r="2.3" fill="#0f6d37"/>
<circle cx="73.1" cy="735.5" r="2.3" fill="#0f6d37"/>
<circle cx="81.9" cy="735.5" r="2.3" fill="#0f6d37"/>
<circle cx="69" cy="739.3" r="2.3" fill="#0f6d37"/>
<circle cx="77.8" cy="739.3" r="2.3" fill="#0f6d37"/>
<text x="91.5" y="740" font-size="13.5" font-style="italic" fill="#1f7d3a" transform="matrix(1,0,0,1.05,0,-37.000)">Posidonia oceanica</text>
<text x="91.5" y="753.3" font-size="13.5" fill="#1f7d3a" transform="matrix(1,0,0,1.05,0,-37.665)">debris</text>
<rect x="433.3" y="69.5" width="156.9" height="27.3" fill="url(#gSoil)"/>
<text x="511.8" y="87.5" font-size="14" font-weight="bold" text-anchor="middle" fill="#fff" transform="matrix(1,0,0,1.05,0,-4.375)">Soil</text>
<rect x="433.3" y="98.8" width="156.9" height="29.4" fill="url(#gFlood)"/>
<text x="511.8" y="117.6" font-size="14" font-weight="bold" text-anchor="middle" fill="#3a78be" transform="matrix(1,0,0,1.05,0,-5.880)">Floodplain</text>
<rect x="433.3" y="130.2" width="156.9" height="76.0" fill="url(#gLake)"/>
<text x="511.8" y="166.6" font-size="14" font-weight="bold" text-anchor="middle" fill="#fff" transform="matrix(1,0,0,1.05,0,-8.330)">Coastal</text>
<text x="511.8" y="179.0" font-size="14" font-weight="bold" text-anchor="middle" fill="#fff" transform="matrix(1,0,0,1.05,0,-8.950)">lake</text>
<rect x="433.3" y="208.3" width="156.9" height="33.4" fill="url(#gProt)"/>
<text x="511.8" y="229.9" font-size="14" font-weight="bold" text-anchor="middle" fill="#fff" transform="matrix(1,0,0,1.05,0,-11.495)">Protected lagoon</text>
<rect x="433.3" y="243.8" width="156.9" height="28.0" fill="url(#gDelta)"/>
<text x="511.8" y="262.0" font-size="14" font-weight="bold" text-anchor="middle" fill="#fff" transform="matrix(1,0,0,1.05,0,-13.100)">Delta plain</text>
<rect x="433.3" y="273.9" width="156.9" height="81.4" fill="url(#gWave)"/>
<text x="511.8" y="318.8" font-size="14" font-weight="bold" text-anchor="middle" fill="#fff" transform="matrix(1,0,0,1.05,0,-15.940)">Wave-dominated delta</text>
<rect x="433.3" y="357.2" width="156.9" height="17.9" fill="url(#gProt)"/>
<text x="511.8" y="369.9" font-size="14" font-weight="bold" text-anchor="middle" fill="#fff" transform="matrix(1,0,0,1.05,0,-18.495)">Protected lagoon</text>
<rect x="433.3" y="377.2" width="156.9" height="134.8" fill="url(#gLeaky)"/>
<text x="511.8" y="439.5" font-size="14" font-weight="bold" text-anchor="middle" fill="#fff" transform="matrix(1,0,0,1.05,0,-21.975)">Leaky</text>
<text x="511.8" y="452.4" font-size="14" font-weight="bold" text-anchor="middle" fill="#fff" transform="matrix(1,0,0,1.05,0,-22.620)">lagoon</text>
<rect x="433.3" y="513.9" width="156.9" height="94.1" fill="url(#gInlet)"/>
<text x="511.8" y="557.5" font-size="14" font-weight="bold" text-anchor="middle" fill="#fff" transform="matrix(1,0,0,1.05,0,-27.875)">Inlet</text>
<text x="511.8" y="570.7" font-size="14" font-weight="bold" text-anchor="middle" fill="#fff" transform="matrix(1,0,0,1.05,0,-28.535)">channel</text>
<rect x="594.8" y="69.5" width="31.2" height="27.3" fill="url(#gSoil)"/>
<rect x="594.8" y="98.8" width="31.2" height="107.4" fill="url(#gFluv)"/>
<rect x="594.8" y="208.6" width="31.2" height="399.4" fill="url(#gMar)"/>
<text transform="translate(603.5,153) rotate(90)" font-family="Liberation Serif" font-size="25" font-weight="bold" text-anchor="middle" fill="#fff" style="font-family:'Liberation Serif',serif">Fluvial</text>
<text transform="translate(603.5,410) rotate(90)" font-family="Liberation Serif" font-size="25" font-weight="bold" text-anchor="middle" fill="#fff" style="font-family:'Liberation Serif',serif">Marine</text>
<text x="511.8" y="13.6" font-size="17.8" font-weight="bold" text-anchor="middle" fill="#2e2f91" transform="matrix(1,0,0,1.05,0,-0.680)">Sedimentary</text>
<text x="511.8" y="31.4" font-size="17.8" font-weight="bold" text-anchor="middle" fill="#2e2f91" transform="matrix(1,0,0,1.05,0,-1.570)">environment</text>
<text x="609.8" y="13.6" font-size="17.8" font-weight="bold" text-anchor="middle" fill="#3a7bc4" transform="matrix(1,0,0,1.05,0,-0.680)">Main</text>
<text x="609.8" y="31.4" font-size="17.8" font-weight="bold" text-anchor="middle" fill="#3a7bc4" transform="matrix(1,0,0,1.05,0,-1.570)">inputs</text>
<path d="M510.1,36.2 H513.9 V47.0 L521.8,42.7 L512.0,66.5 L502.2,42.7 L510.1,47.0 Z" fill="#2e2f91"/>
<path d="M608.6,36.2 H612.4 V47.0 L620.3,42.7 L610.5,66.5 L600.7,42.7 L608.6,47.0 Z" fill="#3a7bc4"/>
</svg></body></html>
